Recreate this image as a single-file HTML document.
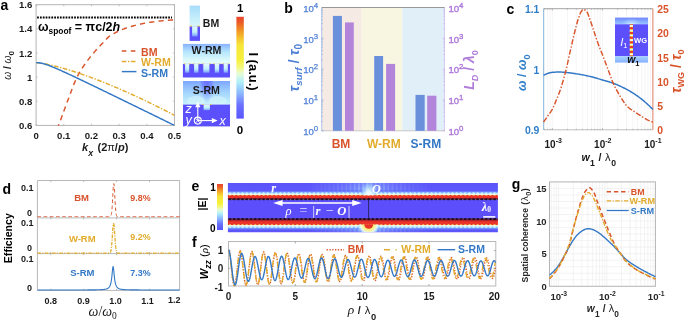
<!DOCTYPE html>
<html lang="en"><head><meta charset="utf-8"><title>Figure</title>
<style>html,body{margin:0;padding:0;background:#fff}body{width:685px;height:321px;overflow:hidden}</style></head>
<body>
<svg width="685" height="321" viewBox="0 0 685 321" style="display:block">
<defs>
<linearGradient id="cb" x1="0" y1="1" x2="0" y2="0">
<stop offset="0" stop-color="#5a55ff"/><stop offset="0.13" stop-color="#6a70ff"/><stop offset="0.25" stop-color="#8cb8ff"/>
<stop offset="0.36" stop-color="#b0f0fa"/><stop offset="0.44" stop-color="#e6fbd8"/><stop offset="0.50" stop-color="#f4f880"/>
<stop offset="0.58" stop-color="#f6f03c"/><stop offset="0.72" stop-color="#f7e63a"/><stop offset="0.80" stop-color="#f6be2c"/><stop offset="0.88" stop-color="#f08a22"/><stop offset="0.94" stop-color="#ec5e28"/><stop offset="1" stop-color="#e8432a"/>
</linearGradient>
<linearGradient id="gBMtop" x1="0" y1="0" x2="0" y2="1"><stop offset="0" stop-color="#a8dcfb"/><stop offset="0.6" stop-color="#c4eefb"/><stop offset="1" stop-color="#d8f6fa"/></linearGradient>
<linearGradient id="gSlot" x1="0" y1="0" x2="0" y2="1"><stop offset="0" stop-color="#e2fbfc"/><stop offset="0.55" stop-color="#c2eefd"/><stop offset="0.85" stop-color="#8cb4ff"/><stop offset="1" stop-color="#6468ff"/></linearGradient>
<linearGradient id="gWtop" x1="0" y1="0" x2="0" y2="1"><stop offset="0" stop-color="#88b2ff"/><stop offset="0.4" stop-color="#b6e6fd"/><stop offset="0.8" stop-color="#dcf9fb"/><stop offset="1" stop-color="#e6fcfb"/></linearGradient>
<linearGradient id="gStop" x1="0" y1="0" x2="0" y2="1"><stop offset="0" stop-color="#7da6ff"/><stop offset="0.5" stop-color="#a4d6fd"/><stop offset="1" stop-color="#c8f2fb"/></linearGradient>
<radialGradient id="gSpl" cx="0.5" cy="0.5" r="0.5"><stop offset="0" stop-color="#6468ff" stop-opacity="1"/><stop offset="0.55" stop-color="#7488ff" stop-opacity="0.85"/><stop offset="1" stop-color="#9cc4ff" stop-opacity="0"/></radialGradient>
</defs>
<text x="0.5" y="9.8" font-family="'Liberation Sans', sans-serif" font-size="14" font-weight="bold" fill="#000">a</text>
<rect x="36.1" y="4.7" width="138.4" height="120.7" fill="#fff" stroke="#b5b5b5" stroke-width="1"/>
<path d="M36.10,125.4v-1.6 M36.10,4.7v1.6 M36.1,4.70h1.6 M174.5,4.70h-1.6 M63.78,125.4v-1.6 M63.78,4.7v1.6 M36.1,28.84h1.6 M174.5,28.84h-1.6 M91.46,125.4v-1.6 M91.46,4.7v1.6 M36.1,52.98h1.6 M174.5,52.98h-1.6 M119.14,125.4v-1.6 M119.14,4.7v1.6 M36.1,77.12h1.6 M174.5,77.12h-1.6 M146.82,125.4v-1.6 M146.82,4.7v1.6 M36.1,101.26h1.6 M174.5,101.26h-1.6 M174.50,125.4v-1.6 M174.50,4.7v1.6 M36.1,125.40h1.6 M174.5,125.40h-1.6" stroke="#b5b5b5" stroke-width="0.8" fill="none"/>
<text x="32.3" y="8.30" text-anchor="end" font-family="'Liberation Sans', sans-serif" font-size="9.6" font-weight="bold" fill="#1a1a1a">1.6</text>
<text x="32.3" y="32.44" text-anchor="end" font-family="'Liberation Sans', sans-serif" font-size="9.6" font-weight="bold" fill="#1a1a1a">1.4</text>
<text x="32.3" y="56.58" text-anchor="end" font-family="'Liberation Sans', sans-serif" font-size="9.6" font-weight="bold" fill="#1a1a1a">1.2</text>
<text x="32.3" y="80.72" text-anchor="end" font-family="'Liberation Sans', sans-serif" font-size="9.6" font-weight="bold" fill="#1a1a1a">1</text>
<text x="32.3" y="104.86" text-anchor="end" font-family="'Liberation Sans', sans-serif" font-size="9.6" font-weight="bold" fill="#1a1a1a">0.8</text>
<text x="32.3" y="129.00" text-anchor="end" font-family="'Liberation Sans', sans-serif" font-size="9.6" font-weight="bold" fill="#1a1a1a">0.6</text>
<text x="36.10" y="138.6" text-anchor="middle" font-family="'Liberation Sans', sans-serif" font-size="9.6" font-weight="bold" fill="#1a1a1a">0</text>
<text x="63.78" y="138.6" text-anchor="middle" font-family="'Liberation Sans', sans-serif" font-size="9.6" font-weight="bold" fill="#1a1a1a">0.1</text>
<text x="91.46" y="138.6" text-anchor="middle" font-family="'Liberation Sans', sans-serif" font-size="9.6" font-weight="bold" fill="#1a1a1a">0.2</text>
<text x="119.14" y="138.6" text-anchor="middle" font-family="'Liberation Sans', sans-serif" font-size="9.6" font-weight="bold" fill="#1a1a1a">0.3</text>
<text x="146.82" y="138.6" text-anchor="middle" font-family="'Liberation Sans', sans-serif" font-size="9.6" font-weight="bold" fill="#1a1a1a">0.4</text>
<text x="174.50" y="138.6" text-anchor="middle" font-family="'Liberation Sans', sans-serif" font-size="9.6" font-weight="bold" fill="#1a1a1a">0.5</text>
<path d="M37.1,17.5H172.0" stroke="#000" stroke-width="2.1" stroke-dasharray="1.75 1.1" fill="none"/>
<clipPath id="ca"><rect x="36.1" y="4.7" width="138.4" height="121.0"/></clipPath>
<g clip-path="url(#ca)" fill="none" stroke-width="1.45">
<path d="M57.14,129.02 L57.92,126.99 L58.71,124.95 L59.50,122.87 L60.29,120.76 L61.08,118.63 L61.86,116.49 L62.65,114.34 L63.44,112.19 L64.23,110.05 L65.01,107.91 L65.80,105.79 L66.59,103.69 L67.38,101.61 L68.16,99.55 L68.95,97.45 L69.74,95.32 L70.53,93.18 L71.31,91.05 L72.10,88.93 L72.89,86.85 L73.68,84.82 L74.47,82.86 L75.25,80.97 L76.04,79.18 L76.83,77.50 L77.62,75.95 L78.40,74.48 L79.19,73.07 L79.98,71.72 L80.77,70.42 L81.55,69.16 L82.34,67.95 L83.13,66.77 L83.92,65.62 L84.71,64.50 L85.49,63.39 L86.28,62.30 L87.07,61.23 L87.86,60.15 L88.64,59.10 L89.43,58.07 L90.22,57.06 L91.01,56.07 L91.79,55.11 L92.58,54.16 L93.37,53.22 L94.16,52.30 L94.95,51.39 L95.73,50.49 L96.52,49.60 L97.31,48.72 L98.10,47.87 L98.88,47.03 L99.67,46.19 L100.46,45.37 L101.25,44.56 L102.03,43.75 L102.82,42.94 L103.61,42.10 L104.40,41.23 L105.18,40.37 L105.97,39.51 L106.76,38.68 L107.55,37.89 L108.34,37.16 L109.12,36.50 L109.91,35.93 L110.70,35.42 L111.49,34.92 L112.27,34.44 L113.06,33.98 L113.85,33.53 L114.64,33.09 L115.42,32.67 L116.21,32.26 L117.00,31.87 L117.79,31.49 L118.58,31.12 L119.36,30.76 L120.15,30.41 L120.94,30.08 L121.73,29.75 L122.51,29.44 L123.30,29.13 L124.09,28.83 L124.88,28.54 L125.66,28.27 L126.45,27.99 L127.24,27.73 L128.03,27.47 L128.81,27.22 L129.60,26.98 L130.39,26.74 L131.18,26.50 L131.97,26.27 L132.75,26.04 L133.54,25.82 L134.33,25.60 L135.12,25.39 L135.90,25.18 L136.69,24.97 L137.48,24.77 L138.27,24.57 L139.05,24.38 L139.84,24.20 L140.63,24.02 L141.42,23.84 L142.21,23.67 L142.99,23.50 L143.78,23.34 L144.57,23.19 L145.36,23.04 L146.14,22.90 L146.93,22.77 L147.72,22.64 L148.51,22.51 L149.29,22.40 L150.08,22.28 L150.87,22.18 L151.66,22.07 L152.45,21.96 L153.23,21.85 L154.02,21.75 L154.81,21.64 L155.60,21.54 L156.38,21.44 L157.17,21.34 L157.96,21.24 L158.75,21.15 L159.53,21.05 L160.32,20.96 L161.11,20.88 L161.90,20.79 L162.68,20.71 L163.47,20.63 L164.26,20.55 L165.05,20.48 L165.84,20.41 L166.62,20.34 L167.41,20.28 L168.20,20.22 L168.99,20.17 L169.77,20.12 L170.56,20.07 L171.35,20.03 L172.14,19.99 L172.92,19.96 L173.71,19.93 L174.50,19.91" stroke="#d9532b" stroke-dasharray="5.2 4.2"/>
<path d="M36.10,62.64 L37.50,62.73 L38.90,62.89 L40.29,63.07 L41.69,63.28 L43.09,63.52 L44.49,63.77 L45.89,64.03 L47.28,64.31 L48.68,64.61 L50.08,64.91 L51.48,65.23 L52.88,65.56 L54.27,65.90 L55.67,66.25 L57.07,66.60 L58.47,66.97 L59.87,67.34 L61.26,67.73 L62.66,68.12 L64.06,68.52 L65.46,68.93 L66.86,69.34 L68.25,69.76 L69.65,70.19 L71.05,70.62 L72.45,71.06 L73.85,71.51 L75.24,71.96 L76.64,72.42 L78.04,72.89 L79.44,73.36 L80.84,73.84 L82.23,74.32 L83.63,74.81 L85.03,75.30 L86.43,75.80 L87.83,76.30 L89.22,76.81 L90.62,77.32 L92.02,77.84 L93.42,78.37 L94.82,78.89 L96.21,79.43 L97.61,79.96 L99.01,80.51 L100.41,81.05 L101.81,81.60 L103.20,82.16 L104.60,82.72 L106.00,83.28 L107.40,83.85 L108.79,84.42 L110.19,85.00 L111.59,85.58 L112.99,86.16 L114.39,86.75 L115.78,87.34 L117.18,87.93 L118.58,88.53 L119.98,89.14 L121.38,89.74 L122.77,90.35 L124.17,90.97 L125.57,91.59 L126.97,92.21 L128.37,92.83 L129.76,93.46 L131.16,94.09 L132.56,94.73 L133.96,95.37 L135.36,96.01 L136.75,96.66 L138.15,97.31 L139.55,97.96 L140.95,98.61 L142.35,99.27 L143.74,99.93 L145.14,100.60 L146.54,101.27 L147.94,101.94 L149.34,102.61 L150.73,103.29 L152.13,103.97 L153.53,104.66 L154.93,105.34 L156.33,106.03 L157.72,106.73 L159.12,107.42 L160.52,108.12 L161.92,108.82 L163.32,109.53 L164.71,110.23 L166.11,110.94 L167.51,111.66 L168.91,112.37 L170.31,113.09 L171.70,113.81 L173.10,114.54 L174.50,115.26" stroke="#e2ab2c" stroke-dasharray="4.6 1.6 1.3 1.6"/>
<path d="M36.10,62.64 L37.50,62.68 L38.90,62.81 L40.29,63.01 L41.69,63.29 L43.09,63.63 L44.49,64.02 L45.89,64.46 L47.28,64.93 L48.68,65.43 L50.08,65.96 L51.48,66.51 L52.88,67.07 L54.27,67.65 L55.67,68.24 L57.07,68.85 L58.47,69.46 L59.87,70.08 L61.26,70.70 L62.66,71.33 L64.06,71.97 L65.46,72.61 L66.86,73.25 L68.25,73.90 L69.65,74.55 L71.05,75.21 L72.45,75.86 L73.85,76.52 L75.24,77.18 L76.64,77.84 L78.04,78.50 L79.44,79.17 L80.84,79.84 L82.23,80.50 L83.63,81.17 L85.03,81.84 L86.43,82.51 L87.83,83.18 L89.22,83.85 L90.62,84.53 L92.02,85.20 L93.42,85.87 L94.82,86.55 L96.21,87.22 L97.61,87.90 L99.01,88.57 L100.41,89.25 L101.81,89.93 L103.20,90.61 L104.60,91.28 L106.00,91.96 L107.40,92.64 L108.79,93.32 L110.19,94.00 L111.59,94.68 L112.99,95.36 L114.39,96.04 L115.78,96.72 L117.18,97.40 L118.58,98.08 L119.98,98.76 L121.38,99.44 L122.77,100.12 L124.17,100.80 L125.57,101.48 L126.97,102.16 L128.37,102.85 L129.76,103.53 L131.16,104.21 L132.56,104.89 L133.96,105.57 L135.36,106.26 L136.75,106.94 L138.15,107.62 L139.55,108.30 L140.95,108.99 L142.35,109.67 L143.74,110.35 L145.14,111.04 L146.54,111.72 L147.94,112.40 L149.34,113.09 L150.73,113.77 L152.13,114.45 L153.53,115.14 L154.93,115.82 L156.33,116.50 L157.72,117.19 L159.12,117.87 L160.52,118.56 L161.92,119.24 L163.32,119.92 L164.71,120.61 L166.11,121.29 L167.51,121.98 L168.91,122.66 L170.31,123.35 L171.70,124.03 L173.10,124.71 L174.50,125.40" stroke="#3378c6"/>
</g>
<text x="38" y="30.8" font-family="'Liberation Sans', sans-serif" font-size="12.5" font-weight="bold" fill="#000">ω<tspan font-size="8.4" dy="2.8">spoof</tspan><tspan dy="-2.8"> = πc/2</tspan><tspan font-style="italic">h</tspan></text>
<g fill="none" stroke-width="1.45"><path d="M121.8,51H136.4" stroke="#d9532b" stroke-dasharray="4.6 4.4"/><path d="M121.8,61.4H136.4" stroke="#e2ab2c" stroke-dasharray="4.6 1.6 1.3 1.6"/><path d="M121.8,71.6H136.4" stroke="#3378c6"/></g>
<g font-family="'Liberation Sans', sans-serif" font-size="10.6" font-weight="bold"><text x="141" y="55.6" fill="#d9532b">BM</text><text x="141" y="66.3" fill="#e2ab2c">W-RM</text><text x="141" y="77" fill="#3378c6">S-RM</text></g>
<text transform="translate(10.6,65.4) rotate(-90)" text-anchor="middle" font-family="'Liberation Sans', sans-serif" font-size="10.2" fill="#1a1a1a"><tspan font-style="italic">ω</tspan><tspan font-weight="bold"> / </tspan><tspan font-style="italic">ω</tspan><tspan font-weight="bold" font-size="8" dy="3.5">0</tspan></text>
<text x="82" y="151.3" font-family="'Liberation Sans', sans-serif" font-size="11" font-weight="bold" fill="#1a1a1a"><tspan font-style="italic">k</tspan><tspan font-style="italic" font-size="8.8" dy="4.6">x</tspan><tspan dy="-4.6" dx="1.4">  (2</tspan><tspan font-weight="normal">π</tspan>/<tspan font-style="italic">p</tspan>)</text>
<rect x="189.6" y="5.6" width="10.4" height="21" fill="url(#gBMtop)"/>
<rect x="189.6" y="26.2" width="10.4" height="14.7" fill="#5b50fb"/>
<rect x="192.1" y="26.2" width="5.4" height="10.6" fill="url(#gSlot)"/>
<rect x="189.8" y="25.6" width="2.2" height="1" fill="#f6c644"/><rect x="197.6" y="25.6" width="2.2" height="1" fill="#f6c644"/>
<text x="202.8" y="27.1" font-family="'Liberation Sans', sans-serif" font-size="10.5" font-weight="bold" fill="#1a1a1a">BM</text>
<rect x="182.9" y="43.9" width="47.1" height="20.3" fill="url(#gWtop)"/>
<rect x="182.9" y="63.9" width="47.1" height="13.6" fill="#5b50fb"/>
<rect x="185.1" y="63.9" width="4.10" height="9.2" fill="url(#gSlot)"/>
<rect x="194.1" y="63.9" width="4.30" height="9.2" fill="url(#gSlot)"/>
<rect x="203.3" y="63.9" width="6.10" height="9.2" fill="url(#gSlot)"/>
<rect x="214.8" y="63.9" width="4.30" height="9.2" fill="url(#gSlot)"/>
<rect x="223.7" y="63.9" width="4.10" height="9.2" fill="url(#gSlot)"/>
<rect x="184.00" y="63.3" width="1.3" height="1.1" fill="#f6c84a" opacity="0.95"/>
<rect x="189.0" y="63.3" width="1.3" height="1.1" fill="#f6c84a" opacity="0.95"/>
<rect x="193.00" y="63.3" width="1.3" height="1.1" fill="#f6c84a" opacity="0.95"/>
<rect x="198.20000000000002" y="63.3" width="1.3" height="1.1" fill="#f6c84a" opacity="0.95"/>
<rect x="202.20" y="63.3" width="1.3" height="1.1" fill="#f6c84a" opacity="0.95"/>
<rect x="209.20000000000002" y="63.3" width="1.3" height="1.1" fill="#f6c84a" opacity="0.95"/>
<rect x="213.70" y="63.3" width="1.3" height="1.1" fill="#f6c84a" opacity="0.95"/>
<rect x="218.9" y="63.3" width="1.3" height="1.1" fill="#f6c84a" opacity="0.95"/>
<rect x="222.60" y="63.3" width="1.3" height="1.1" fill="#f6c84a" opacity="0.95"/>
<rect x="227.60000000000002" y="63.3" width="1.3" height="1.1" fill="#f6c84a" opacity="0.95"/>
<text x="206.5" y="53.6" text-anchor="middle" font-family="'Liberation Sans', sans-serif" font-size="10.6" font-weight="bold" fill="#1a1a1a">W-RM</text>
<rect x="183" y="81" width="47" height="23.8" fill="url(#gStop)"/>
<clipPath id="csr"><rect x="183" y="81" width="47" height="23.8"/></clipPath><g clip-path="url(#csr)"><ellipse cx="206.8" cy="78" rx="9.5" ry="25" fill="url(#gSpl)"/><ellipse cx="196" cy="101" rx="9" ry="5" fill="#d8f8fc" opacity="0.55"/><ellipse cx="218" cy="101" rx="9" ry="5" fill="#d8f8fc" opacity="0.55"/></g>
<rect x="183" y="104.6" width="47" height="21.8" fill="#5b50fb"/>
<rect x="203.6" y="104.4" width="6.3" height="6.1" fill="url(#gSlot)"/>
<rect x="202.2" y="104.1" width="1.5" height="0.9" fill="#f4c64a"/><rect x="209.9" y="104.1" width="1.5" height="0.9" fill="#f4c64a"/>
<text x="206.4" y="93.7" text-anchor="middle" font-family="'Liberation Sans', sans-serif" font-size="10.6" font-weight="bold" fill="#1a1a1a">S-RM</text>
<g stroke="#fff" stroke-width="1.1" fill="none"><path d="M197.8,120.6V106"/><path d="M197.8,120.6H213"/><circle cx="197.8" cy="120.6" r="3.5"/><path d="M195.4,118.2l4.8,4.8M200.2,118.2l-4.8,4.8" stroke-width="0.9"/></g>
<path d="M197.8,101.6l-2.6,5.6h5.2z M217.6,120.6l-5.8,-2.7v5.4z" fill="#fff"/>
<g font-family="'Liberation Sans', sans-serif" font-style="italic" fill="#fff" font-size="12.5"><text x="185.6" y="113">z</text><text x="185.4" y="124">y</text><text x="219.4" y="124.6">x</text></g>
<rect x="236.4" y="16.8" width="7.4" height="101.8" fill="url(#cb)"/>
<text x="240.1" y="12.4" text-anchor="middle" font-family="'Liberation Sans', sans-serif" font-size="11.5" font-weight="bold" fill="#000">1</text>
<text x="239.9" y="134" text-anchor="middle" font-family="'Liberation Sans', sans-serif" font-size="11.5" font-weight="bold" fill="#000">0</text>
<text transform="translate(248.8,52.4) rotate(90)" font-family="'Liberation Sans', sans-serif" font-size="13" font-weight="bold" fill="#000">I (a.u.)</text>
<text x="284.2" y="12.7" font-family="'Liberation Sans', sans-serif" font-size="14" font-weight="bold" fill="#000">b</text>
<rect x="321.7" y="7.5" width="40" height="123.30000000000001" fill="#f6ebe4"/>
<rect x="361.5" y="7.5" width="41" height="123.30000000000001" fill="#f8f5e0"/>
<rect x="402.3" y="7.5" width="42.30000000000001" height="123.30000000000001" fill="#e0eff8"/>
<path d="M321.7,7.5H444.6" stroke="#8c8c8c" stroke-width="0.9"/>
<path d="M321.7,130.8H444.6" stroke="#c4c4c4" stroke-width="0.9"/>
<path d="M321.7,7.5V130.8" stroke="#4d7fd6" stroke-width="0.8" opacity="0.55"/>
<path d="M444.6,7.5V130.8" stroke="#b07cd9" stroke-width="0.8" opacity="0.45"/>
<path d="M321.7,130.80h1.8 M321.7,121.52h1.0 M321.7,116.09h1.0 M321.7,112.24h1.0 M321.7,109.25h1.0 M321.7,106.81h1.0 M321.7,104.75h1.0 M321.7,102.96h1.0 M321.7,101.39h1.0 M321.7,99.98h1.8 M321.7,90.70h1.0 M321.7,85.27h1.0 M321.7,81.42h1.0 M321.7,78.43h1.0 M321.7,75.99h1.0 M321.7,73.92h1.0 M321.7,72.14h1.0 M321.7,70.56h1.0 M321.7,69.15h1.8 M321.7,59.87h1.0 M321.7,54.44h1.0 M321.7,50.59h1.0 M321.7,47.60h1.0 M321.7,45.16h1.0 M321.7,43.10h1.0 M321.7,41.31h1.0 M321.7,39.74h1.0 M321.7,38.33h1.8 M321.7,29.05h1.0 M321.7,23.62h1.0 M321.7,19.77h1.0 M321.7,16.78h1.0 M321.7,14.34h1.0 M321.7,12.27h1.0 M321.7,10.49h1.0 M321.7,8.91h1.0" stroke="#4d7fd6" stroke-width="0.6" opacity="0.8" fill="none"/><path d="M444.6,130.80h-1.8 M444.6,121.52h-1.0 M444.6,116.09h-1.0 M444.6,112.24h-1.0 M444.6,109.25h-1.0 M444.6,106.81h-1.0 M444.6,104.75h-1.0 M444.6,102.96h-1.0 M444.6,101.39h-1.0 M444.6,99.98h-1.8 M444.6,90.70h-1.0 M444.6,85.27h-1.0 M444.6,81.42h-1.0 M444.6,78.43h-1.0 M444.6,75.99h-1.0 M444.6,73.92h-1.0 M444.6,72.14h-1.0 M444.6,70.56h-1.0 M444.6,69.15h-1.8 M444.6,59.87h-1.0 M444.6,54.44h-1.0 M444.6,50.59h-1.0 M444.6,47.60h-1.0 M444.6,45.16h-1.0 M444.6,43.10h-1.0 M444.6,41.31h-1.0 M444.6,39.74h-1.0 M444.6,38.33h-1.8 M444.6,29.05h-1.0 M444.6,23.62h-1.0 M444.6,19.77h-1.0 M444.6,16.78h-1.0 M444.6,14.34h-1.0 M444.6,12.27h-1.0 M444.6,10.49h-1.0 M444.6,8.91h-1.0" stroke="#b07cd9" stroke-width="0.6" opacity="0.8" fill="none"/>
<rect x="332.9" y="15.9" width="9.00" height="114.90" fill="#6a90dc"/>
<rect x="345" y="22.4" width="8.80" height="108.40" fill="#b285da"/>
<rect x="374.2" y="56" width="8.90" height="74.80" fill="#6a90dc"/>
<rect x="386.1" y="63.9" width="9.00" height="66.90" fill="#b285da"/>
<rect x="415.5" y="94.9" width="9.20" height="35.90" fill="#6a90dc"/>
<rect x="427.2" y="95.7" width="9.20" height="35.10" fill="#b285da"/>
<text x="318.2" y="11.80" text-anchor="end" font-family="'Liberation Sans', sans-serif" font-size="9.6" fill="#4d7fd6" stroke="#4d7fd6" stroke-width="0.25">10<tspan font-size="7.8" dy="-4">4</tspan></text>
<text x="448.4" y="11.80" font-family="'Liberation Sans', sans-serif" font-size="9.6" fill="#b07cd9" stroke="#b07cd9" stroke-width="0.4">10<tspan font-size="7.8" dy="-4">4</tspan></text>
<text x="318.2" y="42.62" text-anchor="end" font-family="'Liberation Sans', sans-serif" font-size="9.6" fill="#4d7fd6" stroke="#4d7fd6" stroke-width="0.25">10<tspan font-size="7.8" dy="-4">3</tspan></text>
<text x="448.4" y="42.62" font-family="'Liberation Sans', sans-serif" font-size="9.6" fill="#b07cd9" stroke="#b07cd9" stroke-width="0.4">10<tspan font-size="7.8" dy="-4">3</tspan></text>
<text x="318.2" y="73.45" text-anchor="end" font-family="'Liberation Sans', sans-serif" font-size="9.6" fill="#4d7fd6" stroke="#4d7fd6" stroke-width="0.25">10<tspan font-size="7.8" dy="-4">2</tspan></text>
<text x="448.4" y="73.45" font-family="'Liberation Sans', sans-serif" font-size="9.6" fill="#b07cd9" stroke="#b07cd9" stroke-width="0.4">10<tspan font-size="7.8" dy="-4">2</tspan></text>
<text x="318.2" y="104.28" text-anchor="end" font-family="'Liberation Sans', sans-serif" font-size="9.6" fill="#4d7fd6" stroke="#4d7fd6" stroke-width="0.25">10<tspan font-size="7.8" dy="-4">1</tspan></text>
<text x="448.4" y="104.28" font-family="'Liberation Sans', sans-serif" font-size="9.6" fill="#b07cd9" stroke="#b07cd9" stroke-width="0.4">10<tspan font-size="7.8" dy="-4">1</tspan></text>
<text x="318.2" y="135.10" text-anchor="end" font-family="'Liberation Sans', sans-serif" font-size="9.6" fill="#4d7fd6" stroke="#4d7fd6" stroke-width="0.25">10<tspan font-size="7.8" dy="-4">0</tspan></text>
<text x="448.4" y="135.10" font-family="'Liberation Sans', sans-serif" font-size="9.6" fill="#b07cd9" stroke="#b07cd9" stroke-width="0.4">10<tspan font-size="7.8" dy="-4">0</tspan></text>
<g font-family="'Liberation Sans', sans-serif" font-size="12" font-weight="bold" text-anchor="middle"><text x="341" y="147.8" fill="#d9532b">BM</text><text x="383.8" y="147.8" fill="#e2ab2c">W-RM</text><text x="425.9" y="147.8" fill="#3378c6">S-RM</text></g>
<text transform="translate(298.7,67.8) rotate(-90)" text-anchor="middle" font-family="'Liberation Sans', sans-serif" font-size="14.5" font-weight="bold" font-style="italic" fill="#4d7fd6">τ<tspan font-size="9.6" dy="3.4">surf</tspan><tspan dy="-3.4" font-style="normal"> / </tspan>τ<tspan font-size="10" dy="3.4" font-style="normal">0</tspan></text>
<text transform="translate(474.4,70) rotate(-90)" text-anchor="middle" font-family="'Liberation Sans', sans-serif" font-size="14" font-weight="bold" font-style="italic" fill="#b07cd9">L<tspan font-size="9" dy="3.4">D</tspan><tspan dy="-3.4" font-style="normal"> / </tspan>λ<tspan font-size="9" dy="3.4" font-style="normal">0</tspan></text>
<text x="506.6" y="13.8" font-family="'Liberation Sans', sans-serif" font-size="14" font-weight="bold" fill="#000">c</text>
<rect x="543.6" y="8.7" width="109.29999999999995" height="121.10000000000001" fill="#fff"/>
<path d="M544.52,8.7V129.8 M547.43,8.7V129.8 M550.00,8.7V129.8 M552.30,8.7V129.8 M567.43,8.7V129.8 M576.28,8.7V129.8 M582.55,8.7V129.8 M587.42,8.7V129.8 M591.40,8.7V129.8 M594.77,8.7V129.8 M597.68,8.7V129.8 M600.25,8.7V129.8 M602.55,8.7V129.8 M617.68,8.7V129.8 M626.53,8.7V129.8 M632.80,8.7V129.8 M637.67,8.7V129.8 M641.65,8.7V129.8 M645.02,8.7V129.8 M647.93,8.7V129.8 M650.50,8.7V129.8" stroke="#eeeeee" stroke-width="0.6" fill="none"/>
<path d="M543.6,8.7H652.9" stroke="#9a9a9a" stroke-width="0.9"/><path d="M543.6,129.8H652.9" stroke="#b9b9b9" stroke-width="0.9"/>
<path d="M543.6,8.7V129.8" stroke="#2f7fc9" stroke-width="0.9" opacity="0.6"/><path d="M652.9,8.7V129.8" stroke="#d9532b" stroke-width="0.9" opacity="0.85"/>
<path d="M544.52,129.8v-0.9 M544.52,8.7v0.9 M547.43,129.8v-0.9 M547.43,8.7v0.9 M550.00,129.8v-0.9 M550.00,8.7v0.9 M552.30,129.8v-1.8 M552.30,8.7v1.8 M567.43,129.8v-0.9 M567.43,8.7v0.9 M576.28,129.8v-0.9 M576.28,8.7v0.9 M582.55,129.8v-0.9 M582.55,8.7v0.9 M587.42,129.8v-0.9 M587.42,8.7v0.9 M591.40,129.8v-0.9 M591.40,8.7v0.9 M594.77,129.8v-0.9 M594.77,8.7v0.9 M597.68,129.8v-0.9 M597.68,8.7v0.9 M600.25,129.8v-0.9 M600.25,8.7v0.9 M602.55,129.8v-1.8 M602.55,8.7v1.8 M617.68,129.8v-0.9 M617.68,8.7v0.9 M626.53,129.8v-0.9 M626.53,8.7v0.9 M632.80,129.8v-0.9 M632.80,8.7v0.9 M637.67,129.8v-0.9 M637.67,8.7v0.9 M641.65,129.8v-0.9 M641.65,8.7v0.9 M645.02,129.8v-0.9 M645.02,8.7v0.9 M647.93,129.8v-0.9 M647.93,8.7v0.9 M650.50,129.8v-0.9 M650.50,8.7v0.9" stroke="#8a8a8a" stroke-width="0.6" fill="none"/>
<path d="M543.60,75.30 L544.52,74.85 L545.44,74.42 L546.36,74.02 L547.27,73.64 L548.19,73.30 L549.11,73.00 L550.03,72.76 L550.95,72.56 L551.87,72.42 L552.78,72.34 L553.70,72.26 L554.62,72.19 L555.54,72.12 L556.46,72.07 L557.38,72.03 L558.30,72.01 L559.21,72.00 L560.13,72.01 L561.05,72.05 L561.97,72.10 L562.89,72.17 L563.81,72.25 L564.73,72.34 L565.64,72.44 L566.56,72.53 L567.48,72.62 L568.40,72.71 L569.32,72.81 L570.24,72.92 L571.15,73.04 L572.07,73.16 L572.99,73.29 L573.91,73.42 L574.83,73.56 L575.75,73.71 L576.67,73.85 L577.58,74.00 L578.50,74.16 L579.42,74.31 L580.34,74.47 L581.26,74.63 L582.18,74.80 L583.09,74.98 L584.01,75.16 L584.93,75.34 L585.85,75.53 L586.77,75.73 L587.69,75.93 L588.61,76.14 L589.52,76.36 L590.44,76.57 L591.36,76.79 L592.28,77.02 L593.20,77.25 L594.12,77.50 L595.04,77.75 L595.95,78.02 L596.87,78.29 L597.79,78.57 L598.71,78.85 L599.63,79.13 L600.55,79.42 L601.46,79.70 L602.38,79.98 L603.30,80.25 L604.22,80.51 L605.14,80.77 L606.06,81.03 L606.98,81.28 L607.89,81.54 L608.81,81.80 L609.73,82.07 L610.65,82.35 L611.57,82.64 L612.49,82.95 L613.41,83.27 L614.32,83.62 L615.24,83.97 L616.16,84.34 L617.08,84.73 L618.00,85.13 L618.92,85.54 L619.83,85.97 L620.75,86.40 L621.67,86.85 L622.59,87.30 L623.51,87.76 L624.43,88.23 L625.35,88.70 L626.26,89.18 L627.18,89.67 L628.10,90.17 L629.02,90.68 L629.94,91.21 L630.86,91.75 L631.77,92.30 L632.69,92.87 L633.61,93.45 L634.53,94.05 L635.45,94.65 L636.37,95.28 L637.29,95.92 L638.20,96.58 L639.12,97.26 L640.04,97.96 L640.96,98.67 L641.88,99.41 L642.80,100.16 L643.72,100.92 L644.63,101.70 L645.55,102.49 L646.47,103.29 L647.39,104.10 L648.31,104.95 L649.23,105.82 L650.14,106.71 L651.06,107.63 L651.98,108.56 L652.90,109.50" stroke="#3378c6" stroke-width="1.45" fill="none"/>
<path d="M543.60,122.00 L544.15,121.21 L544.70,120.43 L545.25,119.64 L545.80,118.84 L546.35,118.05 L546.90,117.25 L547.44,116.46 L547.99,115.65 L548.54,114.86 L549.09,114.10 L549.64,113.35 L550.19,112.58 L550.74,111.79 L551.29,110.95 L551.84,110.05 L552.39,109.07 L552.94,107.99 L553.49,106.82 L554.04,105.58 L554.58,104.29 L555.13,102.97 L555.68,101.64 L556.23,100.32 L556.78,99.01 L557.33,97.68 L557.88,96.34 L558.43,94.96 L558.98,93.55 L559.53,92.08 L560.08,90.55 L560.63,88.94 L561.18,87.24 L561.73,85.47 L562.27,83.63 L562.82,81.75 L563.37,79.85 L563.92,77.90 L564.47,75.90 L565.02,73.84 L565.57,71.71 L566.12,69.51 L566.67,67.21 L567.22,64.82 L567.77,62.37 L568.32,59.89 L568.87,57.38 L569.41,54.89 L569.96,52.42 L570.51,50.01 L571.06,47.59 L571.61,45.17 L572.16,42.75 L572.71,40.36 L573.26,38.00 L573.81,35.70 L574.36,33.47 L574.91,31.28 L575.46,29.07 L576.01,26.90 L576.55,24.78 L577.10,22.75 L577.65,20.83 L578.20,19.08 L578.75,17.48 L579.30,15.91 L579.85,14.40 L580.40,13.05 L580.95,11.92 L581.50,11.10 L582.05,10.47 L582.60,9.93 L583.15,9.57 L583.69,9.51 L584.24,9.65 L584.79,9.94 L585.34,10.33 L585.89,10.81 L586.44,11.34 L586.99,12.00 L587.54,13.00 L588.09,14.28 L588.64,15.76 L589.19,17.33 L589.74,18.92 L590.29,20.43 L590.84,21.96 L591.38,23.57 L591.93,25.22 L592.48,26.91 L593.03,28.59 L593.58,30.24 L594.13,31.89 L594.68,33.56 L595.23,35.23 L595.78,36.90 L596.33,38.54 L596.88,40.16 L597.43,41.74 L597.98,43.26 L598.52,44.73 L599.07,46.16 L599.62,47.57 L600.17,48.96 L600.72,50.33 L601.27,51.71 L601.82,53.09 L602.37,54.49 L602.92,55.91 L603.47,57.34 L604.02,58.79 L604.57,60.23 L605.12,61.68 L605.66,63.14 L606.21,64.59 L606.76,66.05 L607.31,67.51 L607.86,68.96 L608.41,70.45 L608.96,71.97 L609.51,73.51 L610.06,75.06 L610.61,76.60 L611.16,78.10 L611.71,79.57 L612.26,80.97 L612.81,82.30 L613.35,83.54 L613.90,84.73 L614.45,85.88 L615.00,87.00 L615.55,88.09 L616.10,89.15 L616.65,90.18 L617.20,91.19 L617.75,92.17 L618.30,93.13 L618.85,94.06 L619.40,94.98 L619.95,95.89 L620.49,96.78 L621.04,97.67 L621.59,98.55 L622.14,99.43 L622.69,100.30 L623.24,101.15 L623.79,101.98 L624.34,102.77 L624.89,103.54 L625.44,104.27 L625.99,104.96 L626.54,105.60 L627.09,106.19 L627.63,106.72 L628.18,107.22 L628.73,107.70 L629.28,108.14 L629.83,108.57 L630.38,108.97 L630.93,109.37 L631.48,109.74 L632.03,110.11 L632.58,110.48 L633.13,110.84 L633.68,111.21 L634.23,111.58 L634.77,111.96 L635.32,112.32 L635.87,112.68 L636.42,113.04 L636.97,113.39 L637.52,113.74 L638.07,114.08 L638.62,114.42 L639.17,114.77 L639.72,115.11 L640.27,115.45 L640.82,115.80 L641.37,116.16 L641.92,116.51 L642.46,116.88 L643.01,117.24 L643.56,117.59 L644.11,117.95 L644.66,118.29 L645.21,118.62 L645.76,118.94 L646.31,119.25 L646.86,119.53 L647.41,119.81 L647.96,120.09 L648.51,120.35 L649.06,120.61 L649.60,120.86 L650.15,121.11 L650.70,121.35 L651.25,121.57 L651.80,121.79 L652.35,122.00 L652.90,122.20" stroke="#d9532b" stroke-width="1.45" stroke-dasharray="5.4 1.8 1.4 1.8" fill="none"/>
<text x="539.4" y="13.00" text-anchor="end" font-family="'Liberation Sans', sans-serif" font-size="10.4" font-weight="bold" fill="#2f7fc9">1.1</text>
<text x="539.4" y="73.55" text-anchor="end" font-family="'Liberation Sans', sans-serif" font-size="10.4" font-weight="bold" fill="#2f7fc9">1</text>
<text x="539.4" y="134.10" text-anchor="end" font-family="'Liberation Sans', sans-serif" font-size="10.4" font-weight="bold" fill="#2f7fc9">0.9</text>
<text x="657.2" y="13.20" font-family="'Liberation Sans', sans-serif" font-size="10.4" font-weight="bold" fill="#d9532b">25</text>
<text x="657.2" y="37.42" font-family="'Liberation Sans', sans-serif" font-size="10.4" font-weight="bold" fill="#d9532b">20</text>
<text x="657.2" y="61.64" font-family="'Liberation Sans', sans-serif" font-size="10.4" font-weight="bold" fill="#d9532b">15</text>
<text x="657.2" y="85.86" font-family="'Liberation Sans', sans-serif" font-size="10.4" font-weight="bold" fill="#d9532b">10</text>
<text x="657.2" y="110.08" font-family="'Liberation Sans', sans-serif" font-size="10.4" font-weight="bold" fill="#d9532b">5</text>
<text x="657.2" y="134.30" font-family="'Liberation Sans', sans-serif" font-size="10.4" font-weight="bold" fill="#d9532b">0</text>
<text x="553.2" y="147.7" text-anchor="middle" font-family="'Liberation Sans', sans-serif" font-size="10" font-weight="bold" fill="#1a1a1a">10<tspan font-size="7" dy="-4.3">-3</tspan></text>
<text x="602.8" y="147.7" text-anchor="middle" font-family="'Liberation Sans', sans-serif" font-size="10" font-weight="bold" fill="#1a1a1a">10<tspan font-size="7" dy="-4.3">-2</tspan></text>
<text x="652.9" y="147.7" text-anchor="middle" font-family="'Liberation Sans', sans-serif" font-size="10" font-weight="bold" fill="#1a1a1a">10<tspan font-size="7" dy="-4.3">-1</tspan></text>
<text x="581.4" y="160.6" font-family="'Liberation Sans', sans-serif" font-size="10.6" font-weight="bold" fill="#1a1a1a"><tspan font-style="italic">w</tspan><tspan font-size="8.7" dy="5.6" dx="0.4">1</tspan><tspan dy="-5.6" dx="0.6"> / </tspan><tspan font-weight="normal" font-size="11.2" dx="0.7">λ</tspan><tspan font-size="8.7" dy="5.6" dx="0.6">0</tspan></text>
<text transform="translate(526.4,72.8) rotate(-90)" text-anchor="middle" font-family="'Liberation Sans', sans-serif" font-size="12.6" font-weight="bold" fill="#2f7fc9"><tspan font-style="italic">ω</tspan> / <tspan font-style="italic">ω</tspan><tspan font-size="9" dy="3.2">0</tspan></text>
<text transform="translate(680.8,71.4) rotate(-90)" text-anchor="middle" font-family="'Liberation Sans', sans-serif" font-size="14" font-weight="bold" fill="#d9532b"><tspan font-style="italic">τ</tspan><tspan font-size="9" dy="3.2">WG</tspan><tspan dy="-3.2"> / </tspan><tspan font-style="italic">τ</tspan><tspan font-size="9" dy="3.2">0</tspan></text>
<defs><linearGradient id="gct" x1="0" y1="0" x2="0" y2="1"><stop offset="0" stop-color="#6f86ff"/><stop offset="1" stop-color="#9ccaff"/></linearGradient>
<radialGradient id="gcg" cx="0.5" cy="1" r="0.9" gradientTransform="translate(0.5 1) scale(0.35 1) translate(-0.5 -1)"><stop offset="0" stop-color="#d8f8ff" stop-opacity="0.95"/><stop offset="1" stop-color="#a8d8ff" stop-opacity="0"/></radialGradient>
<linearGradient id="gcb" x1="0" y1="0" x2="0" y2="1"><stop offset="0" stop-color="#a6d4ff"/><stop offset="1" stop-color="#86b0ff"/></linearGradient>
<linearGradient id="gwg" x1="0" y1="0" x2="0" y2="4.7" gradientUnits="userSpaceOnUse" spreadMethod="repeat"><stop offset="0" stop-color="#ea3a2a"/><stop offset="0.14" stop-color="#ea3a2a"/><stop offset="0.3" stop-color="#f6e04a"/><stop offset="0.42" stop-color="#f8fdf0"/><stop offset="0.5" stop-color="#c4f0ff"/><stop offset="0.58" stop-color="#f8fdf0"/><stop offset="0.7" stop-color="#f6e04a"/><stop offset="0.86" stop-color="#ea3a2a"/><stop offset="1" stop-color="#ea3a2a"/></linearGradient></defs>
<rect x="615" y="17.6" width="33" height="7" fill="url(#gct)"/><rect x="615" y="17.6" width="33" height="7" fill="url(#gcg)"/>
<rect x="615" y="24.3" width="33" height="32" fill="#5b50fb"/>
<rect x="615" y="56.2" width="33" height="6.4" fill="url(#gcb)"/>
<g transform="translate(0,23.6)"><rect x="629.7" y="0.6" width="3.3" height="32" fill="url(#gwg)"/></g>
<text x="620.6" y="45.6" font-family="'Liberation Sans', sans-serif" font-size="11.5" font-style="italic" fill="#fff">l<tspan font-size="7.5" dy="2.8" font-style="normal">1</tspan></text>
<text x="634.1" y="43.2" font-family="'Liberation Sans', sans-serif" font-size="7.6" font-weight="bold" fill="#fff">WG</text>
<text x="627.2" y="62.6" font-family="'Liberation Sans', sans-serif" font-size="10.5" font-weight="bold" fill="#111"><tspan font-style="italic">w</tspan><tspan font-size="7.5" dy="3">1</tspan></text>
<text x="2.4" y="193.7" font-family="'Liberation Sans', sans-serif" font-size="14" font-weight="bold" fill="#000">d</text>
<rect x="37.4" y="180.5" width="142.2" height="109.89999999999998" fill="#fff"/>
<path d="M37.4,180.5V290.4 M179.6,180.5V290.4 M37.4,180.5H179.6 M37.4,217.9H179.6 M37.4,253.6H179.6 M37.4,290.4H179.6 M50.80,217.9v-1.6M50.80,180.5v1.6 M50.80,253.6v-1.6M50.80,217.9v1.6 M50.80,290.4v-1.6M50.80,253.6v1.6 M83.70,217.9v-1.6M83.70,180.5v1.6 M83.70,253.6v-1.6M83.70,217.9v1.6 M83.70,290.4v-1.6M83.70,253.6v1.6 M116.60,217.9v-1.6M116.60,180.5v1.6 M116.60,253.6v-1.6M116.60,217.9v1.6 M116.60,290.4v-1.6M116.60,253.6v1.6 M149.50,217.9v-1.6M149.50,180.5v1.6 M149.50,253.6v-1.6M149.50,217.9v1.6 M149.50,290.4v-1.6M149.50,253.6v1.6" stroke="#b8b8b8" stroke-width="1" fill="none"/>
<path d="M37.40,216.60 L37.76,216.60 L38.11,216.60 L38.47,216.60 L38.83,216.60 L39.18,216.60 L39.54,216.60 L39.89,216.60 L40.25,216.60 L40.61,216.60 L40.96,216.60 L41.32,216.60 L41.68,216.60 L42.03,216.60 L42.39,216.60 L42.75,216.60 L43.10,216.60 L43.46,216.60 L43.82,216.60 L44.17,216.60 L44.53,216.60 L44.88,216.60 L45.24,216.60 L45.60,216.60 L45.95,216.60 L46.31,216.60 L46.67,216.60 L47.02,216.60 L47.38,216.60 L47.74,216.60 L48.09,216.60 L48.45,216.60 L48.80,216.60 L49.16,216.60 L49.52,216.60 L49.87,216.60 L50.23,216.60 L50.59,216.60 L50.94,216.60 L51.30,216.60 L51.66,216.60 L52.01,216.60 L52.37,216.60 L52.72,216.60 L53.08,216.60 L53.44,216.60 L53.79,216.60 L54.15,216.60 L54.51,216.60 L54.86,216.60 L55.22,216.60 L55.58,216.60 L55.93,216.60 L56.29,216.60 L56.65,216.60 L57.00,216.60 L57.36,216.60 L57.71,216.60 L58.07,216.60 L58.43,216.60 L58.78,216.60 L59.14,216.60 L59.50,216.60 L59.85,216.60 L60.21,216.60 L60.57,216.60 L60.92,216.60 L61.28,216.60 L61.63,216.60 L61.99,216.60 L62.35,216.60 L62.70,216.60 L63.06,216.60 L63.42,216.60 L63.77,216.60 L64.13,216.60 L64.49,216.60 L64.84,216.60 L65.20,216.60 L65.55,216.60 L65.91,216.60 L66.27,216.60 L66.62,216.60 L66.98,216.60 L67.34,216.60 L67.69,216.60 L68.05,216.60 L68.41,216.60 L68.76,216.60 L69.12,216.60 L69.48,216.60 L69.83,216.60 L70.19,216.60 L70.54,216.60 L70.90,216.60 L71.26,216.60 L71.61,216.60 L71.97,216.60 L72.33,216.60 L72.68,216.60 L73.04,216.60 L73.40,216.60 L73.75,216.60 L74.11,216.60 L74.46,216.60 L74.82,216.60 L75.18,216.60 L75.53,216.60 L75.89,216.60 L76.25,216.60 L76.60,216.60 L76.96,216.60 L77.32,216.60 L77.67,216.60 L78.03,216.60 L78.38,216.60 L78.74,216.60 L79.10,216.60 L79.45,216.60 L79.81,216.60 L80.17,216.60 L80.52,216.60 L80.88,216.60 L81.24,216.60 L81.59,216.60 L81.95,216.60 L82.31,216.60 L82.66,216.60 L83.02,216.60 L83.37,216.60 L83.73,216.60 L84.09,216.60 L84.44,216.60 L84.80,216.60 L85.16,216.60 L85.51,216.60 L85.87,216.60 L86.23,216.60 L86.58,216.60 L86.94,216.60 L87.29,216.60 L87.65,216.60 L88.01,216.60 L88.36,216.60 L88.72,216.60 L89.08,216.60 L89.43,216.60 L89.79,216.60 L90.15,216.60 L90.50,216.60 L90.86,216.60 L91.22,216.60 L91.57,216.60 L91.93,216.60 L92.28,216.60 L92.64,216.60 L93.00,216.60 L93.35,216.60 L93.71,216.60 L94.07,216.60 L94.42,216.60 L94.78,216.60 L95.14,216.60 L95.49,216.60 L95.85,216.60 L96.20,216.60 L96.56,216.60 L96.92,216.60 L97.27,216.60 L97.63,216.60 L97.99,216.60 L98.34,216.60 L98.70,216.60 L99.06,216.60 L99.41,216.60 L99.77,216.60 L100.12,216.60 L100.48,216.60 L100.84,216.60 L101.19,216.60 L101.55,216.60 L101.91,216.60 L102.26,216.60 L102.62,216.60 L102.98,216.60 L103.33,216.60 L103.69,216.60 L104.05,216.60 L104.40,216.60 L104.76,216.60 L105.11,216.60 L105.47,216.60 L105.83,216.60 L106.18,216.60 L106.54,216.60 L106.90,216.60 L107.25,216.60 L107.61,216.60 L107.80,216.60 L107.90,216.60 L107.97,216.60 L108.00,216.60 L108.10,216.60 L108.20,216.60 L108.30,216.60 L108.32,216.60 L108.40,216.60 L108.50,216.60 L108.60,216.60 L108.68,216.60 L108.70,216.60 L108.80,216.60 L108.90,216.60 L109.00,216.60 L109.03,216.60 L109.10,216.60 L109.20,216.60 L109.30,216.60 L109.39,216.60 L109.40,216.59 L109.50,216.59 L109.60,216.59 L109.70,216.58 L109.75,216.58 L109.80,216.58 L109.90,216.57 L110.00,216.55 L110.10,216.53 L110.10,216.53 L110.20,216.51 L110.30,216.47 L110.40,216.43 L110.46,216.39 L110.50,216.36 L110.60,216.28 L110.70,216.18 L110.80,216.04 L110.82,216.02 L110.90,215.87 L111.00,215.66 L111.10,215.39 L111.17,215.16 L111.20,215.06 L111.30,214.66 L111.40,214.18 L111.50,213.60 L111.53,213.42 L111.60,212.93 L111.70,212.13 L111.80,211.22 L111.89,210.34 L111.90,210.18 L112.00,209.01 L112.10,207.70 L112.20,206.27 L112.24,205.62 L112.30,204.71 L112.40,203.03 L112.50,201.27 L112.60,199.45 L112.60,199.43 L112.70,197.54 L112.80,195.63 L112.90,193.75 L112.95,192.73 L113.00,191.91 L113.10,190.18 L113.20,188.57 L113.30,187.14 L113.31,186.99 L113.40,185.91 L113.50,184.92 L113.60,184.19 L113.67,183.86 L113.70,183.75 L113.80,183.60 L113.90,183.75 L114.00,184.19 L114.02,184.34 L114.10,184.92 L114.20,185.91 L114.30,187.14 L114.38,188.28 L114.40,188.57 L114.50,190.18 L114.60,191.91 L114.70,193.75 L114.74,194.44 L114.80,195.63 L114.90,197.54 L115.00,199.43 L115.09,201.14 L115.10,201.27 L115.20,203.03 L115.30,204.71 L115.40,206.27 L115.45,206.99 L115.50,207.70 L115.60,209.01 L115.70,210.18 L115.80,211.22 L115.81,211.28 L115.90,212.13 L116.00,212.93 L116.10,213.60 L116.16,213.97 L116.20,214.18 L116.30,214.66 L116.40,215.06 L116.50,215.39 L116.52,215.44 L116.60,215.66 L116.70,215.87 L116.80,216.04 L116.88,216.15 L116.90,216.18 L117.00,216.28 L117.10,216.36 L117.20,216.43 L117.23,216.44 L117.30,216.47 L117.40,216.51 L117.50,216.53 L117.59,216.55 L117.60,216.55 L117.70,216.57 L117.80,216.58 L117.90,216.58 L117.94,216.59 L118.00,216.59 L118.10,216.59 L118.20,216.59 L118.30,216.60 L118.30,216.60 L118.40,216.60 L118.50,216.60 L118.60,216.60 L118.66,216.60 L118.70,216.60 L118.80,216.60 L118.90,216.60 L119.00,216.60 L119.01,216.60 L119.10,216.60 L119.20,216.60 L119.30,216.60 L119.37,216.60 L119.40,216.60 L119.50,216.60 L119.60,216.60 L119.70,216.60 L119.73,216.60 L119.80,216.60 L120.08,216.60 L120.44,216.60 L120.80,216.60 L121.15,216.60 L121.51,216.60 L121.86,216.60 L122.22,216.60 L122.58,216.60 L122.93,216.60 L123.29,216.60 L123.65,216.60 L124.00,216.60 L124.36,216.60 L124.72,216.60 L125.07,216.60 L125.43,216.60 L125.78,216.60 L126.14,216.60 L126.50,216.60 L126.85,216.60 L127.21,216.60 L127.57,216.60 L127.92,216.60 L128.28,216.60 L128.64,216.60 L128.99,216.60 L129.35,216.60 L129.71,216.60 L130.06,216.60 L130.42,216.60 L130.77,216.60 L131.13,216.60 L131.49,216.60 L131.84,216.60 L132.20,216.60 L132.56,216.60 L132.91,216.60 L133.27,216.60 L133.63,216.60 L133.98,216.60 L134.34,216.60 L134.69,216.60 L135.05,216.60 L135.41,216.60 L135.76,216.60 L136.12,216.60 L136.48,216.60 L136.83,216.60 L137.19,216.60 L137.55,216.60 L137.90,216.60 L138.26,216.60 L138.62,216.60 L138.97,216.60 L139.33,216.60 L139.68,216.60 L140.04,216.60 L140.40,216.60 L140.75,216.60 L141.11,216.60 L141.47,216.60 L141.82,216.60 L142.18,216.60 L142.54,216.60 L142.89,216.60 L143.25,216.60 L143.60,216.60 L143.96,216.60 L144.32,216.60 L144.67,216.60 L145.03,216.60 L145.39,216.60 L145.74,216.60 L146.10,216.60 L146.46,216.60 L146.81,216.60 L147.17,216.60 L147.52,216.60 L147.88,216.60 L148.24,216.60 L148.59,216.60 L148.95,216.60 L149.31,216.60 L149.66,216.60 L150.02,216.60 L150.38,216.60 L150.73,216.60 L151.09,216.60 L151.45,216.60 L151.80,216.60 L152.16,216.60 L152.51,216.60 L152.87,216.60 L153.23,216.60 L153.58,216.60 L153.94,216.60 L154.30,216.60 L154.65,216.60 L155.01,216.60 L155.37,216.60 L155.72,216.60 L156.08,216.60 L156.43,216.60 L156.79,216.60 L157.15,216.60 L157.50,216.60 L157.86,216.60 L158.22,216.60 L158.57,216.60 L158.93,216.60 L159.29,216.60 L159.64,216.60 L160.00,216.60 L160.35,216.60 L160.71,216.60 L161.07,216.60 L161.42,216.60 L161.78,216.60 L162.14,216.60 L162.49,216.60 L162.85,216.60 L163.21,216.60 L163.56,216.60 L163.92,216.60 L164.28,216.60 L164.63,216.60 L164.99,216.60 L165.34,216.60 L165.70,216.60 L166.06,216.60 L166.41,216.60 L166.77,216.60 L167.13,216.60 L167.48,216.60 L167.84,216.60 L168.20,216.60 L168.55,216.60 L168.91,216.60 L169.26,216.60 L169.62,216.60 L169.98,216.60 L170.33,216.60 L170.69,216.60 L171.05,216.60 L171.40,216.60 L171.76,216.60 L172.12,216.60 L172.47,216.60 L172.83,216.60 L173.18,216.60 L173.54,216.60 L173.90,216.60 L174.25,216.60 L174.61,216.60 L174.97,216.60 L175.32,216.60 L175.68,216.60 L176.04,216.60 L176.39,216.60 L176.75,216.60 L177.11,216.60 L177.46,216.60 L177.82,216.60 L178.17,216.60 L178.53,216.60 L178.89,216.60 L179.24,216.60 L179.60,216.60" stroke="#d9532b" stroke-width="1" stroke-dasharray="3.6 2.6" fill="none"/>
<path d="M37.40,253.20 L37.76,253.20 L38.11,253.20 L38.47,253.20 L38.83,253.20 L39.18,253.20 L39.54,253.20 L39.89,253.20 L40.25,253.20 L40.61,253.20 L40.96,253.20 L41.32,253.20 L41.68,253.20 L42.03,253.20 L42.39,253.20 L42.75,253.20 L43.10,253.20 L43.46,253.20 L43.82,253.20 L44.17,253.20 L44.53,253.20 L44.88,253.20 L45.24,253.20 L45.60,253.20 L45.95,253.20 L46.31,253.20 L46.67,253.20 L47.02,253.20 L47.38,253.20 L47.74,253.20 L48.09,253.20 L48.45,253.20 L48.80,253.20 L49.16,253.20 L49.52,253.20 L49.87,253.20 L50.23,253.20 L50.59,253.20 L50.94,253.20 L51.30,253.20 L51.66,253.20 L52.01,253.20 L52.37,253.20 L52.72,253.20 L53.08,253.20 L53.44,253.20 L53.79,253.20 L54.15,253.20 L54.51,253.20 L54.86,253.20 L55.22,253.20 L55.58,253.20 L55.93,253.20 L56.29,253.20 L56.65,253.20 L57.00,253.20 L57.36,253.20 L57.71,253.20 L58.07,253.20 L58.43,253.20 L58.78,253.20 L59.14,253.20 L59.50,253.20 L59.85,253.20 L60.21,253.20 L60.57,253.20 L60.92,253.20 L61.28,253.20 L61.63,253.20 L61.99,253.20 L62.35,253.20 L62.70,253.20 L63.06,253.20 L63.42,253.20 L63.77,253.20 L64.13,253.20 L64.49,253.20 L64.84,253.20 L65.20,253.20 L65.55,253.20 L65.91,253.20 L66.27,253.20 L66.62,253.20 L66.98,253.20 L67.34,253.20 L67.69,253.20 L68.05,253.20 L68.41,253.20 L68.76,253.20 L69.12,253.20 L69.48,253.20 L69.83,253.20 L70.19,253.20 L70.54,253.20 L70.90,253.20 L71.26,253.20 L71.61,253.20 L71.97,253.20 L72.33,253.20 L72.68,253.20 L73.04,253.20 L73.40,253.20 L73.75,253.20 L74.11,253.20 L74.46,253.20 L74.82,253.20 L75.18,253.20 L75.53,253.20 L75.89,253.20 L76.25,253.20 L76.60,253.20 L76.96,253.20 L77.32,253.20 L77.67,253.20 L78.03,253.20 L78.38,253.20 L78.74,253.20 L79.10,253.20 L79.45,253.20 L79.81,253.20 L80.17,253.20 L80.52,253.20 L80.88,253.20 L81.24,253.20 L81.59,253.20 L81.95,253.20 L82.31,253.20 L82.66,253.20 L83.02,253.20 L83.37,253.20 L83.73,253.20 L84.09,253.20 L84.44,253.20 L84.80,253.20 L85.16,253.20 L85.51,253.20 L85.87,253.20 L86.23,253.20 L86.58,253.20 L86.94,253.20 L87.29,253.20 L87.65,253.20 L88.01,253.20 L88.36,253.20 L88.72,253.20 L89.08,253.20 L89.43,253.20 L89.79,253.20 L90.15,253.20 L90.50,253.20 L90.86,253.20 L91.22,253.20 L91.57,253.20 L91.93,253.20 L92.28,253.20 L92.64,253.20 L93.00,253.20 L93.35,253.20 L93.71,253.20 L94.07,253.20 L94.42,253.20 L94.78,253.20 L95.14,253.20 L95.49,253.20 L95.85,253.20 L96.20,253.20 L96.56,253.20 L96.92,253.20 L97.27,253.20 L97.63,253.20 L97.99,253.20 L98.34,253.20 L98.70,253.20 L99.06,253.20 L99.41,253.20 L99.77,253.20 L100.12,253.20 L100.48,253.20 L100.84,253.20 L101.19,253.20 L101.55,253.20 L101.91,253.20 L102.26,253.20 L102.62,253.20 L102.98,253.20 L103.33,253.20 L103.69,253.20 L104.05,253.20 L104.40,253.20 L104.76,253.20 L105.11,253.20 L105.47,253.20 L105.83,253.20 L106.18,253.20 L106.54,253.20 L106.90,253.20 L107.25,253.20 L107.60,253.20 L107.61,253.20 L107.70,253.20 L107.80,253.20 L107.90,253.20 L107.97,253.20 L108.00,253.20 L108.10,253.20 L108.20,253.20 L108.30,253.20 L108.32,253.20 L108.40,253.20 L108.50,253.20 L108.60,253.19 L108.68,253.19 L108.70,253.19 L108.80,253.19 L108.90,253.19 L109.00,253.18 L109.03,253.18 L109.10,253.17 L109.20,253.16 L109.30,253.15 L109.39,253.14 L109.40,253.14 L109.50,253.11 L109.60,253.09 L109.70,253.05 L109.75,253.03 L109.80,253.00 L109.90,252.94 L110.00,252.87 L110.10,252.78 L110.10,252.78 L110.20,252.67 L110.30,252.53 L110.40,252.35 L110.46,252.23 L110.50,252.15 L110.60,251.90 L110.70,251.60 L110.80,251.25 L110.82,251.19 L110.90,250.85 L111.00,250.37 L111.10,249.82 L111.17,249.37 L111.20,249.19 L111.30,248.48 L111.40,247.69 L111.50,246.80 L111.53,246.52 L111.60,245.82 L111.70,244.75 L111.80,243.59 L111.89,242.53 L111.90,242.35 L112.00,241.03 L112.10,239.65 L112.20,238.21 L112.24,237.60 L112.30,236.74 L112.40,235.25 L112.50,233.75 L112.60,232.31 L112.60,232.28 L112.70,230.86 L112.80,229.50 L112.90,228.23 L112.95,227.58 L113.00,227.08 L113.10,226.06 L113.20,225.20 L113.30,224.51 L113.31,224.44 L113.40,224.01 L113.50,223.70 L113.60,223.60 L113.67,223.65 L113.70,223.70 L113.80,224.01 L113.90,224.51 L114.00,225.20 L114.02,225.39 L114.10,226.06 L114.20,227.08 L114.30,228.23 L114.38,229.24 L114.40,229.50 L114.50,230.86 L114.60,232.28 L114.70,233.75 L114.74,234.30 L114.80,235.25 L114.90,236.74 L115.00,238.21 L115.09,239.55 L115.10,239.65 L115.20,241.03 L115.30,242.35 L115.40,243.59 L115.45,244.18 L115.50,244.75 L115.60,245.82 L115.70,246.80 L115.80,247.69 L115.81,247.74 L115.90,248.48 L116.00,249.19 L116.10,249.82 L116.16,250.17 L116.20,250.37 L116.30,250.85 L116.40,251.25 L116.50,251.60 L116.52,251.66 L116.60,251.90 L116.70,252.15 L116.80,252.35 L116.88,252.49 L116.90,252.53 L117.00,252.67 L117.10,252.78 L117.20,252.87 L117.23,252.90 L117.30,252.94 L117.40,253.00 L117.50,253.05 L117.59,253.08 L117.60,253.09 L117.70,253.11 L117.80,253.14 L117.90,253.15 L117.94,253.16 L118.00,253.16 L118.10,253.17 L118.20,253.18 L118.30,253.19 L118.30,253.19 L118.40,253.19 L118.50,253.19 L118.60,253.19 L118.66,253.20 L118.70,253.20 L118.80,253.20 L118.90,253.20 L119.00,253.20 L119.01,253.20 L119.10,253.20 L119.20,253.20 L119.30,253.20 L119.37,253.20 L119.40,253.20 L119.50,253.20 L119.60,253.20 L119.73,253.20 L120.08,253.20 L120.44,253.20 L120.80,253.20 L121.15,253.20 L121.51,253.20 L121.86,253.20 L122.22,253.20 L122.58,253.20 L122.93,253.20 L123.29,253.20 L123.65,253.20 L124.00,253.20 L124.36,253.20 L124.72,253.20 L125.07,253.20 L125.43,253.20 L125.78,253.20 L126.14,253.20 L126.50,253.20 L126.85,253.20 L127.21,253.20 L127.57,253.20 L127.92,253.20 L128.28,253.20 L128.64,253.20 L128.99,253.20 L129.35,253.20 L129.71,253.20 L130.06,253.20 L130.42,253.20 L130.77,253.20 L131.13,253.20 L131.49,253.20 L131.84,253.20 L132.20,253.20 L132.56,253.20 L132.91,253.20 L133.27,253.20 L133.63,253.20 L133.98,253.20 L134.34,253.20 L134.69,253.20 L135.05,253.20 L135.41,253.20 L135.76,253.20 L136.12,253.20 L136.48,253.20 L136.83,253.20 L137.19,253.20 L137.55,253.20 L137.90,253.20 L138.26,253.20 L138.62,253.20 L138.97,253.20 L139.33,253.20 L139.68,253.20 L140.04,253.20 L140.40,253.20 L140.75,253.20 L141.11,253.20 L141.47,253.20 L141.82,253.20 L142.18,253.20 L142.54,253.20 L142.89,253.20 L143.25,253.20 L143.60,253.20 L143.96,253.20 L144.32,253.20 L144.67,253.20 L145.03,253.20 L145.39,253.20 L145.74,253.20 L146.10,253.20 L146.46,253.20 L146.81,253.20 L147.17,253.20 L147.52,253.20 L147.88,253.20 L148.24,253.20 L148.59,253.20 L148.95,253.20 L149.31,253.20 L149.66,253.20 L150.02,253.20 L150.38,253.20 L150.73,253.20 L151.09,253.20 L151.45,253.20 L151.80,253.20 L152.16,253.20 L152.51,253.20 L152.87,253.20 L153.23,253.20 L153.58,253.20 L153.94,253.20 L154.30,253.20 L154.65,253.20 L155.01,253.20 L155.37,253.20 L155.72,253.20 L156.08,253.20 L156.43,253.20 L156.79,253.20 L157.15,253.20 L157.50,253.20 L157.86,253.20 L158.22,253.20 L158.57,253.20 L158.93,253.20 L159.29,253.20 L159.64,253.20 L160.00,253.20 L160.35,253.20 L160.71,253.20 L161.07,253.20 L161.42,253.20 L161.78,253.20 L162.14,253.20 L162.49,253.20 L162.85,253.20 L163.21,253.20 L163.56,253.20 L163.92,253.20 L164.28,253.20 L164.63,253.20 L164.99,253.20 L165.34,253.20 L165.70,253.20 L166.06,253.20 L166.41,253.20 L166.77,253.20 L167.13,253.20 L167.48,253.20 L167.84,253.20 L168.20,253.20 L168.55,253.20 L168.91,253.20 L169.26,253.20 L169.62,253.20 L169.98,253.20 L170.33,253.20 L170.69,253.20 L171.05,253.20 L171.40,253.20 L171.76,253.20 L172.12,253.20 L172.47,253.20 L172.83,253.20 L173.18,253.20 L173.54,253.20 L173.90,253.20 L174.25,253.20 L174.61,253.20 L174.97,253.20 L175.32,253.20 L175.68,253.20 L176.04,253.20 L176.39,253.20 L176.75,253.20 L177.11,253.20 L177.46,253.20 L177.82,253.20 L178.17,253.20 L178.53,253.20 L178.89,253.20 L179.24,253.20 L179.60,253.20" stroke="#e2ab2c" stroke-width="1.3" stroke-dasharray="3.6 1.3 1.1 1.3" fill="none"/>
<path d="M37.40,289.99 L37.76,289.99 L38.11,289.99 L38.47,289.99 L38.83,289.99 L39.18,289.99 L39.54,289.99 L39.89,289.99 L40.25,289.99 L40.61,289.99 L40.96,289.99 L41.32,289.99 L41.68,289.99 L42.03,289.99 L42.39,289.99 L42.75,289.99 L43.10,289.99 L43.46,289.99 L43.82,289.99 L44.17,289.99 L44.53,289.99 L44.88,289.99 L45.24,289.99 L45.60,289.99 L45.95,289.99 L46.31,289.99 L46.67,289.99 L47.02,289.99 L47.38,289.99 L47.74,289.99 L48.09,289.99 L48.45,289.99 L48.80,289.99 L49.16,289.99 L49.52,289.99 L49.87,289.99 L50.23,289.99 L50.59,289.99 L50.94,289.99 L51.30,289.99 L51.66,289.99 L52.01,289.99 L52.37,289.99 L52.72,289.99 L53.08,289.99 L53.44,289.99 L53.79,289.99 L54.15,289.99 L54.51,289.99 L54.86,289.99 L55.22,289.99 L55.58,289.99 L55.93,289.98 L56.29,289.98 L56.65,289.98 L57.00,289.98 L57.36,289.98 L57.71,289.98 L58.07,289.98 L58.43,289.98 L58.78,289.98 L59.14,289.98 L59.50,289.98 L59.85,289.98 L60.21,289.98 L60.57,289.98 L60.92,289.98 L61.28,289.98 L61.63,289.98 L61.99,289.98 L62.35,289.98 L62.70,289.98 L63.06,289.98 L63.42,289.98 L63.77,289.98 L64.13,289.98 L64.49,289.98 L64.84,289.98 L65.20,289.98 L65.55,289.98 L65.91,289.98 L66.27,289.98 L66.62,289.98 L66.98,289.98 L67.34,289.98 L67.69,289.98 L68.05,289.98 L68.41,289.98 L68.76,289.97 L69.12,289.97 L69.48,289.97 L69.83,289.97 L70.19,289.97 L70.54,289.97 L70.90,289.97 L71.26,289.97 L71.61,289.97 L71.97,289.97 L72.33,289.97 L72.68,289.97 L73.04,289.97 L73.40,289.97 L73.75,289.97 L74.11,289.97 L74.46,289.97 L74.82,289.97 L75.18,289.97 L75.53,289.97 L75.89,289.96 L76.25,289.96 L76.60,289.96 L76.96,289.96 L77.32,289.96 L77.67,289.96 L78.03,289.96 L78.38,289.96 L78.74,289.96 L79.10,289.96 L79.45,289.96 L79.81,289.96 L80.17,289.95 L80.52,289.95 L80.88,289.95 L81.24,289.95 L81.59,289.95 L81.95,289.95 L82.31,289.95 L82.66,289.95 L83.02,289.95 L83.37,289.94 L83.73,289.94 L84.09,289.94 L84.44,289.94 L84.80,289.94 L85.16,289.94 L85.51,289.94 L85.87,289.93 L86.23,289.93 L86.58,289.93 L86.94,289.93 L87.29,289.93 L87.65,289.92 L88.01,289.92 L88.36,289.92 L88.72,289.92 L89.08,289.92 L89.43,289.91 L89.79,289.91 L90.15,289.91 L90.50,289.90 L90.86,289.90 L91.22,289.90 L91.57,289.89 L91.93,289.89 L92.28,289.89 L92.64,289.88 L93.00,289.88 L93.35,289.87 L93.71,289.87 L94.07,289.86 L94.42,289.86 L94.78,289.85 L95.14,289.85 L95.49,289.84 L95.85,289.84 L96.20,289.83 L96.56,289.82 L96.92,289.81 L97.27,289.81 L97.63,289.80 L97.99,289.79 L98.34,289.78 L98.70,289.77 L99.06,289.75 L99.41,289.74 L99.77,289.73 L100.12,289.71 L100.48,289.70 L100.84,289.68 L101.19,289.66 L101.55,289.64 L101.91,289.61 L102.26,289.59 L102.62,289.56 L102.98,289.53 L103.33,289.50 L103.69,289.46 L104.05,289.41 L104.40,289.37 L104.76,289.31 L105.11,289.25 L105.47,289.18 L105.83,289.11 L106.18,289.01 L106.54,288.91 L106.90,288.79 L107.10,288.71 L107.20,288.67 L107.25,288.64 L107.30,288.62 L107.40,288.58 L107.50,288.53 L107.60,288.48 L107.61,288.47 L107.70,288.43 L107.80,288.37 L107.90,288.31 L107.97,288.27 L108.00,288.25 L108.10,288.18 L108.20,288.12 L108.30,288.04 L108.32,288.03 L108.40,287.97 L108.50,287.89 L108.60,287.80 L108.68,287.73 L108.70,287.71 L108.80,287.61 L108.90,287.51 L109.00,287.40 L109.03,287.36 L109.10,287.28 L109.20,287.16 L109.30,287.03 L109.39,286.90 L109.40,286.88 L109.50,286.73 L109.60,286.57 L109.70,286.40 L109.75,286.31 L109.80,286.21 L109.90,286.01 L110.00,285.80 L110.10,285.57 L110.10,285.56 L110.20,285.32 L110.30,285.05 L110.40,284.76 L110.46,284.58 L110.50,284.45 L110.60,284.11 L110.70,283.74 L110.80,283.34 L110.82,283.28 L110.90,282.91 L111.00,282.45 L111.10,281.94 L111.17,281.54 L111.20,281.39 L111.30,280.79 L111.40,280.15 L111.50,279.45 L111.53,279.23 L111.60,278.70 L111.70,277.89 L111.80,277.03 L111.89,276.25 L111.90,276.11 L112.00,275.15 L112.10,274.14 L112.20,273.11 L112.24,272.67 L112.30,272.06 L112.40,271.02 L112.50,270.02 L112.60,269.10 L112.60,269.09 L112.70,268.25 L112.80,267.56 L112.90,267.04 L112.95,266.83 L113.00,266.71 L113.10,266.60 L113.20,266.71 L113.30,267.04 L113.31,267.09 L113.40,267.56 L113.50,268.25 L113.60,269.09 L113.67,269.71 L113.70,270.02 L113.80,271.02 L113.90,272.06 L114.00,273.11 L114.02,273.36 L114.10,274.14 L114.20,275.15 L114.30,276.11 L114.38,276.85 L114.40,277.03 L114.50,277.89 L114.60,278.70 L114.70,279.45 L114.74,279.71 L114.80,280.15 L114.90,280.79 L115.00,281.39 L115.09,281.90 L115.10,281.94 L115.20,282.45 L115.30,282.91 L115.40,283.34 L115.45,283.55 L115.50,283.74 L115.60,284.11 L115.70,284.45 L115.80,284.76 L115.81,284.78 L115.90,285.05 L116.00,285.32 L116.10,285.57 L116.16,285.71 L116.20,285.80 L116.30,286.01 L116.40,286.21 L116.50,286.40 L116.52,286.43 L116.60,286.57 L116.70,286.73 L116.80,286.88 L116.88,286.99 L116.90,287.03 L117.00,287.16 L117.10,287.28 L117.20,287.40 L117.23,287.43 L117.30,287.51 L117.40,287.61 L117.50,287.71 L117.59,287.79 L117.60,287.80 L117.70,287.89 L117.80,287.97 L117.90,288.04 L117.94,288.08 L118.00,288.12 L118.10,288.18 L118.20,288.25 L118.30,288.31 L118.30,288.31 L118.40,288.37 L118.50,288.43 L118.60,288.48 L118.66,288.51 L118.70,288.53 L118.80,288.58 L118.90,288.62 L119.00,288.67 L119.01,288.67 L119.10,288.71 L119.37,288.81 L119.73,288.93 L120.08,289.03 L120.44,289.12 L120.80,289.20 L121.15,289.26 L121.51,289.32 L121.86,289.38 L122.22,289.42 L122.58,289.46 L122.93,289.50 L123.29,289.54 L123.65,289.57 L124.00,289.59 L124.36,289.62 L124.72,289.64 L125.07,289.66 L125.43,289.68 L125.78,289.70 L126.14,289.71 L126.50,289.73 L126.85,289.74 L127.21,289.76 L127.57,289.77 L127.92,289.78 L128.28,289.79 L128.64,289.80 L128.99,289.81 L129.35,289.82 L129.71,289.82 L130.06,289.83 L130.42,289.84 L130.77,289.84 L131.13,289.85 L131.49,289.86 L131.84,289.86 L132.20,289.87 L132.56,289.87 L132.91,289.88 L133.27,289.88 L133.63,289.88 L133.98,289.89 L134.34,289.89 L134.69,289.89 L135.05,289.90 L135.41,289.90 L135.76,289.90 L136.12,289.91 L136.48,289.91 L136.83,289.91 L137.19,289.92 L137.55,289.92 L137.90,289.92 L138.26,289.92 L138.62,289.92 L138.97,289.93 L139.33,289.93 L139.68,289.93 L140.04,289.93 L140.40,289.93 L140.75,289.94 L141.11,289.94 L141.47,289.94 L141.82,289.94 L142.18,289.94 L142.54,289.94 L142.89,289.94 L143.25,289.95 L143.60,289.95 L143.96,289.95 L144.32,289.95 L144.67,289.95 L145.03,289.95 L145.39,289.95 L145.74,289.95 L146.10,289.95 L146.46,289.96 L146.81,289.96 L147.17,289.96 L147.52,289.96 L147.88,289.96 L148.24,289.96 L148.59,289.96 L148.95,289.96 L149.31,289.96 L149.66,289.96 L150.02,289.96 L150.38,289.96 L150.73,289.97 L151.09,289.97 L151.45,289.97 L151.80,289.97 L152.16,289.97 L152.51,289.97 L152.87,289.97 L153.23,289.97 L153.58,289.97 L153.94,289.97 L154.30,289.97 L154.65,289.97 L155.01,289.97 L155.37,289.97 L155.72,289.97 L156.08,289.97 L156.43,289.97 L156.79,289.97 L157.15,289.97 L157.50,289.98 L157.86,289.98 L158.22,289.98 L158.57,289.98 L158.93,289.98 L159.29,289.98 L159.64,289.98 L160.00,289.98 L160.35,289.98 L160.71,289.98 L161.07,289.98 L161.42,289.98 L161.78,289.98 L162.14,289.98 L162.49,289.98 L162.85,289.98 L163.21,289.98 L163.56,289.98 L163.92,289.98 L164.28,289.98 L164.63,289.98 L164.99,289.98 L165.34,289.98 L165.70,289.98 L166.06,289.98 L166.41,289.98 L166.77,289.98 L167.13,289.98 L167.48,289.98 L167.84,289.98 L168.20,289.98 L168.55,289.98 L168.91,289.98 L169.26,289.98 L169.62,289.98 L169.98,289.98 L170.33,289.98 L170.69,289.99 L171.05,289.99 L171.40,289.99 L171.76,289.99 L172.12,289.99 L172.47,289.99 L172.83,289.99 L173.18,289.99 L173.54,289.99 L173.90,289.99 L174.25,289.99 L174.61,289.99 L174.97,289.99 L175.32,289.99 L175.68,289.99 L176.04,289.99 L176.39,289.99 L176.75,289.99 L177.11,289.99 L177.46,289.99 L177.82,289.99 L178.17,289.99 L178.53,289.99 L178.89,289.99 L179.24,289.99 L179.60,289.99" stroke="#3378c6" stroke-width="1.1" fill="none"/>
<text x="33.4" y="191.30" text-anchor="end" font-family="'Liberation Sans', sans-serif" font-size="9" font-weight="bold" fill="#1a1a1a">0.1</text>
<text x="32" y="215.60" text-anchor="end" font-family="'Liberation Sans', sans-serif" font-size="9" font-weight="bold" fill="#1a1a1a">0</text>
<text x="33.4" y="226.20" text-anchor="end" font-family="'Liberation Sans', sans-serif" font-size="9" font-weight="bold" fill="#1a1a1a">0.1</text>
<text x="32" y="251.00" text-anchor="end" font-family="'Liberation Sans', sans-serif" font-size="9" font-weight="bold" fill="#1a1a1a">0</text>
<text x="33.4" y="262.30" text-anchor="end" font-family="'Liberation Sans', sans-serif" font-size="9" font-weight="bold" fill="#1a1a1a">0.1</text>
<text x="32" y="290.90" text-anchor="end" font-family="'Liberation Sans', sans-serif" font-size="9" font-weight="bold" fill="#1a1a1a">0</text>
<text x="50.8" y="303.8" text-anchor="middle" font-family="'Liberation Sans', sans-serif" font-size="9" font-weight="bold" fill="#1a1a1a">0.8</text>
<text x="83.6" y="303.8" text-anchor="middle" font-family="'Liberation Sans', sans-serif" font-size="9" font-weight="bold" fill="#1a1a1a">0.9</text>
<text x="115.6" y="303.8" text-anchor="middle" font-family="'Liberation Sans', sans-serif" font-size="9" font-weight="bold" fill="#1a1a1a">1.0</text>
<text x="147.4" y="303.8" text-anchor="middle" font-family="'Liberation Sans', sans-serif" font-size="9" font-weight="bold" fill="#1a1a1a">1.1</text>
<text x="174.2" y="303" text-anchor="middle" font-family="'Liberation Sans', sans-serif" font-size="9" font-weight="bold" fill="#1a1a1a">1.2</text>
<g font-family="'Liberation Sans', sans-serif" font-size="9.5" font-weight="bold"><text x="74.2" y="200.7" fill="#d9532b">BM</text><text x="130.3" y="200.7" fill="#d9532b" font-size="8.9">9.8%</text><text x="68.9" y="241.6" fill="#e2ab2c">W-RM</text><text x="130.3" y="239.9" fill="#e2ab2c" font-size="8.9">9.2%</text><text x="70.2" y="276" fill="#3378c6">S-RM</text><text x="130.3" y="276" fill="#3378c6" font-size="8.9">7.3%</text></g>
<text transform="translate(12.2,238.2) rotate(-90)" text-anchor="middle" font-family="'Liberation Sans', sans-serif" font-size="10.6" font-weight="bold" fill="#000">Efficiency</text>
<text x="88.6" y="316" font-family="'Liberation Serif', serif" font-size="13.9" font-style="italic" fill="#1a1a1a">ω<tspan font-style="normal">/</tspan>ω<tspan font-size="9.5" dy="2.6" font-style="normal">0</tspan></text>
<text x="191.4" y="190.9" font-family="'Liberation Sans', sans-serif" font-size="14" font-weight="bold" fill="#000">e</text>
<rect x="217" y="184" width="6" height="46" fill="url(#cb)"/>
<text x="213" y="190.9" text-anchor="middle" font-family="'Liberation Sans', sans-serif" font-size="10" font-weight="bold" fill="#000">1</text>
<text x="212.9" y="231.8" text-anchor="middle" font-family="'Liberation Sans', sans-serif" font-size="10" font-weight="bold" fill="#000">0</text>
<text transform="translate(206.2,204) rotate(-90)" text-anchor="middle" font-family="'Liberation Sans', sans-serif" font-size="10.5" font-weight="bold" fill="#000">|E|</text>
<defs><linearGradient id="ge" x1="0" y1="0" x2="0" y2="1"><stop offset="0.0000" stop-color="#5b52fa"/><stop offset="0.1585" stop-color="#5d58fb"/><stop offset="0.1829" stop-color="#7292ff"/><stop offset="0.2033" stop-color="#a0d8fe"/><stop offset="0.2215" stop-color="#dcfafa"/><stop offset="0.2378" stop-color="#f4fbd8"/><stop offset="0.2500" stop-color="#f9dc68"/><stop offset="0.2602" stop-color="#ee6a2c"/><stop offset="0.2683" stop-color="#e8302a"/><stop offset="0.3049" stop-color="#de2a2a"/><stop offset="0.3130" stop-color="#8a1c28"/><stop offset="0.3455" stop-color="#4a1640"/><stop offset="0.3537" stop-color="#5b50fb"/><stop offset="0.7053" stop-color="#5b50fb"/><stop offset="0.7134" stop-color="#4a1640"/><stop offset="0.7581" stop-color="#8a1c28"/><stop offset="0.7683" stop-color="#e22c2a"/><stop offset="0.8211" stop-color="#e8302a"/><stop offset="0.8333" stop-color="#ee6a2c"/><stop offset="0.8455" stop-color="#f9dc68"/><stop offset="0.8598" stop-color="#f4fbd8"/><stop offset="0.8780" stop-color="#dcfafa"/><stop offset="0.9004" stop-color="#a0d8fe"/><stop offset="0.9248" stop-color="#7292ff"/><stop offset="0.9512" stop-color="#5d58fb"/><stop offset="1.0000" stop-color="#5b52fa"/></linearGradient>
<pattern id="sc1" x="227.9" y="0" width="4.2" height="321" patternUnits="userSpaceOnUse"><circle cx="2.1" cy="193.3" r="1.0" fill="#d0f4fc"/><circle cx="2.1" cy="227.0" r="1.1" fill="#d0f4fc"/><circle cx="0" cy="192.9" r="0.9" fill="#6c84ff" opacity="0.28"/><circle cx="4.2" cy="192.9" r="0.9" fill="#6c84ff" opacity="0.28"/><circle cx="0" cy="227.6" r="1" fill="#6c84ff" opacity="0.28"/><circle cx="4.2" cy="227.6" r="1" fill="#6c84ff" opacity="0.28"/><circle cx="0" cy="196.4" r="1.6" fill="#ea342a"/><circle cx="4.2" cy="196.4" r="1.6" fill="#ea342a"/><circle cx="0" cy="223.5" r="1.7" fill="#ea342a"/><circle cx="4.2" cy="223.5" r="1.7" fill="#ea342a"/><rect x="1.2" y="198.5" width="1.9" height="1.7" fill="#140a1c"/><rect x="1.2" y="218.0" width="1.9" height="2" fill="#140a1c"/><rect x="3.4" y="199" width="0.7" height="0.9" fill="#4aa0a0"/><rect x="0" y="217.6" width="1.1" height="0.9" fill="#5b50fb"/><rect x="3.2" y="217.6" width="1" height="0.9" fill="#5b50fb"/></pattern>
<pattern id="rays" x="227.9" y="0" width="4.2" height="321" patternUnits="userSpaceOnUse"><rect x="0" y="0" width="1.8" height="321" fill="#b8e4ff"/><rect x="1.8" y="0" width="2.4" height="321" fill="#86b6ff"/></pattern>
<linearGradient id="gfade" x1="306" y1="0" x2="432" y2="0" gradientUnits="userSpaceOnUse"><stop offset="0" stop-color="#fff" stop-opacity="0"/><stop offset="0.3" stop-color="#fff" stop-opacity="0.4"/><stop offset="0.5" stop-color="#fff" stop-opacity="0.95"/><stop offset="0.7" stop-color="#fff" stop-opacity="0.4"/><stop offset="1" stop-color="#fff" stop-opacity="0"/></linearGradient>
<linearGradient id="gvt" x1="0" y1="183.0" x2="0" y2="193.2" gradientUnits="userSpaceOnUse"><stop offset="0" stop-color="#fff" stop-opacity="0.55"/><stop offset="0.6" stop-color="#fff" stop-opacity="0.8"/><stop offset="1" stop-color="#fff" stop-opacity="0"/></linearGradient>
<linearGradient id="gvb" x1="0" y1="227.2" x2="0" y2="232.2" gradientUnits="userSpaceOnUse"><stop offset="0" stop-color="#fff" stop-opacity="0"/><stop offset="0.5" stop-color="#fff" stop-opacity="0.8"/><stop offset="1" stop-color="#fff" stop-opacity="0.6"/></linearGradient>
<mask id="mt" maskUnits="userSpaceOnUse" x="306" y="183.0" width="126" height="11"><rect x="306" y="183.0" width="126" height="11" fill="url(#gfade)"/></mask>
<mask id="mb" maskUnits="userSpaceOnUse" x="306" y="227" width="126" height="5.2"><rect x="306" y="227" width="126" height="5.2" fill="url(#gfade)"/></mask>
<mask id="mvt" maskUnits="userSpaceOnUse" x="306" y="183.0" width="126" height="11"><rect x="306" y="183.0" width="126" height="11" fill="url(#gvt)"/></mask>
<mask id="mvb" maskUnits="userSpaceOnUse" x="306" y="227" width="126" height="5.2"><rect x="306" y="227" width="126" height="5.2" fill="url(#gvb)"/></mask>
<radialGradient id="glt" cx="368.7" cy="196" r="14.5" gradientUnits="userSpaceOnUse" gradientTransform="translate(368.7 196) scale(0.6 1) translate(-368.7 -196)"><stop offset="0" stop-color="#ffffff" stop-opacity="1"/><stop offset="0.35" stop-color="#e4fbff" stop-opacity="0.95"/><stop offset="0.7" stop-color="#b0dcff" stop-opacity="0.6"/><stop offset="1" stop-color="#8cc0ff" stop-opacity="0"/></radialGradient>
<radialGradient id="glb" cx="368.7" cy="224.6" r="11.5" gradientUnits="userSpaceOnUse"><stop offset="0" stop-color="#f9e650"/><stop offset="0.5" stop-color="#faf08a" stop-opacity="1"/><stop offset="0.7" stop-color="#f0fce8" stop-opacity="0.95"/><stop offset="0.86" stop-color="#b8e6ff" stop-opacity="0.6"/><stop offset="1" stop-color="#9cd0ff" stop-opacity="0"/></radialGradient>
</defs>
<clipPath id="cfield"><rect x="227.9" y="183.0" width="270.0" height="49.19999999999999"/></clipPath><filter id="fb" x="-5%" y="-20%" width="110%" height="140%"><feGaussianBlur stdDeviation="0.42"/></filter>
<g clip-path="url(#cfield)"><g filter="url(#fb)">
<rect x="223.9" y="179.0" width="278.0" height="57.19999999999999" fill="#5b52fa"/>
<rect x="223.9" y="183.0" width="278.0" height="49.19999999999999" fill="url(#ge)"/>
<g mask="url(#mt)"><g mask="url(#mvt)"><rect x="306" y="183.0" width="126" height="11" fill="url(#rays)"/></g></g>
<g mask="url(#mb)"><g mask="url(#mvb)"><rect x="306" y="227" width="126" height="5.2" fill="url(#rays)"/></g></g>
<rect x="223.9" y="183.0" width="278.0" height="49.19999999999999" fill="url(#sc1)"/>
<clipPath id="cet"><rect x="227.9" y="183.0" width="270.0" height="12.199999999999989"/></clipPath><clipPath id="ceb"><rect x="227.9" y="224.6" width="270.0" height="7.599999999999994"/></clipPath>
<g clip-path="url(#cet)"><ellipse cx="368.7" cy="196" rx="9" ry="14.5" fill="url(#glt)"/></g>
<g clip-path="url(#ceb)"><circle cx="368.7" cy="224.6" r="11.5" fill="url(#glb)"/></g>
<path d="M364.2,224.2a4.5,4.5 0 0 0 9,0z" fill="#e8302a"/>
</g></g>
<path d="M368.6,197.8V220.2" stroke="#15152a" stroke-width="0.7"/>
<path d="M280,203H355" stroke="#fff" stroke-width="1.4"/><path d="M273.2,203l9.4,-3.1v6.2z M361.6,203l-9.4,-3.1v6.2z" fill="#fff"/>
<text x="271.2" y="191.6" font-family="'Liberation Serif', serif" font-size="12.5" font-weight="bold" font-style="italic" fill="#fff">r</text>
<text x="372" y="193.2" font-family="'Liberation Serif', serif" font-size="12" font-weight="bold" font-style="italic" fill="#fff">O</text>
<text y="214.5" font-family="'Liberation Serif', serif" font-size="12.6" font-style="italic" fill="#fff"><tspan x="285.6">ρ</tspan><tspan x="299.6" font-style="normal" fill-opacity="0.85" font-size="14">=</tspan><tspan x="312.4" font-style="normal">|</tspan><tspan x="315.6" font-weight="bold">r</tspan><tspan x="326" font-style="normal" fill-opacity="0.85" font-size="14">−</tspan><tspan x="337.2" font-weight="bold">O</tspan><tspan x="347.8" font-style="normal">|</tspan></text>
<text x="481.8" y="210.6" font-family="'Liberation Serif', serif" font-size="12.5" font-weight="bold" font-style="italic" fill="#fff">λ<tspan font-size="7.5" dy="1.6" font-style="normal">0</tspan></text>
<path d="M483.2,216.9H495.3" stroke="#fff" stroke-width="1.5"/>
<text x="192" y="246.9" font-family="'Liberation Sans', sans-serif" font-size="14" font-weight="bold" fill="#000">f</text>
<rect x="228.5" y="241.5" width="267.3" height="44.5" fill="#fff" stroke="#b8b8b8" stroke-width="1"/>
<path d="M295.32,286v-2M295.32,241.5v2 M362.15,286v-2M362.15,241.5v2 M428.98,286v-2M428.98,241.5v2 M228.5,250.60h2M495.8,250.60h-2 M228.5,268.30h2M495.8,268.30h-2" stroke="#9a9a9a" stroke-width="0.8" fill="none"/>
<clipPath id="cf"><rect x="228.5" y="241.5" width="267.3" height="46.0"/></clipPath><g clip-path="url(#cf)" fill="none">
<path d="M228.50,250.07 L228.80,250.32 L229.09,251.02 L229.39,252.16 L229.69,253.70 L229.99,255.61 L230.28,257.84 L230.58,260.32 L230.88,263.01 L231.18,265.82 L231.47,268.68 L231.77,271.54 L232.07,274.30 L232.37,276.91 L232.66,279.29 L232.96,281.40 L233.26,283.16 L233.55,284.55 L233.85,285.52 L234.15,286.06 L234.45,286.15 L234.74,285.79 L235.04,284.98 L235.34,283.76 L235.64,282.14 L235.93,280.18 L236.23,277.93 L236.53,275.43 L236.83,272.76 L237.12,269.99 L237.42,267.17 L237.72,264.39 L238.01,261.72 L238.31,259.21 L238.61,256.94 L238.91,254.96 L239.20,253.33 L239.50,252.07 L239.80,251.23 L240.10,250.82 L240.39,250.85 L240.69,251.32 L240.99,252.22 L241.29,253.53 L241.58,255.21 L241.88,257.21 L242.18,259.49 L242.47,261.99 L242.77,264.64 L243.07,267.38 L243.37,270.14 L243.66,272.85 L243.96,275.43 L244.26,277.83 L244.56,279.99 L244.85,281.84 L245.15,283.35 L245.45,284.48 L245.75,285.20 L246.04,285.48 L246.34,285.34 L246.64,284.76 L246.93,283.77 L247.23,282.38 L247.53,280.65 L247.83,278.61 L248.12,276.31 L248.42,273.81 L248.72,271.18 L249.02,268.48 L249.31,265.78 L249.61,263.15 L249.91,260.65 L250.21,258.36 L250.50,256.32 L250.80,254.58 L251.10,253.20 L251.39,252.20 L251.69,251.60 L251.99,251.44 L252.29,251.69 L252.58,252.37 L252.88,253.45 L253.18,254.90 L253.48,256.69 L253.77,258.77 L254.07,261.08 L254.37,263.57 L254.67,266.18 L254.96,268.84 L255.26,271.47 L255.56,274.02 L255.85,276.43 L256.15,278.62 L256.45,280.55 L256.75,282.16 L257.04,283.42 L257.34,284.30 L257.64,284.77 L257.94,284.83 L258.23,284.46 L258.53,283.69 L258.83,282.53 L259.13,281.02 L259.42,279.18 L259.72,277.07 L260.02,274.75 L260.31,272.27 L260.61,269.69 L260.91,267.08 L261.21,264.51 L261.50,262.03 L261.80,259.72 L262.10,257.63 L262.40,255.82 L262.69,254.32 L262.99,253.18 L263.29,252.43 L263.58,252.07 L263.88,252.13 L264.18,252.59 L264.48,253.46 L264.77,254.69 L265.07,256.27 L265.37,258.14 L265.67,260.28 L265.96,262.60 L266.26,265.07 L266.56,267.62 L266.86,270.18 L267.15,272.69 L267.45,275.08 L267.75,277.29 L268.04,279.28 L268.34,280.98 L268.64,282.36 L268.94,283.38 L269.23,284.02 L269.53,284.26 L269.83,284.10 L270.13,283.54 L270.42,282.59 L270.72,281.29 L271.02,279.66 L271.32,277.74 L271.61,275.59 L271.91,273.26 L272.21,270.81 L272.50,268.29 L272.80,265.79 L273.10,263.35 L273.40,261.04 L273.69,258.92 L273.99,257.04 L274.29,255.45 L274.59,254.18 L274.88,253.27 L275.18,252.75 L275.48,252.62 L275.78,252.88 L276.07,253.54 L276.37,254.57 L276.67,255.94 L276.96,257.62 L277.26,259.57 L277.56,261.73 L277.86,264.06 L278.15,266.49 L278.45,268.97 L278.75,271.42 L279.05,273.79 L279.34,276.01 L279.64,278.04 L279.94,279.82 L280.24,281.30 L280.53,282.45 L280.83,283.24 L281.13,283.66 L281.42,283.68 L281.72,283.32 L282.02,282.57 L282.32,281.47 L282.61,280.04 L282.91,278.31 L283.21,276.33 L283.51,274.16 L283.80,271.84 L284.10,269.43 L284.40,267.00 L284.70,264.60 L284.99,262.31 L285.29,260.17 L285.59,258.23 L285.88,256.56 L286.18,255.19 L286.48,254.14 L286.78,253.46 L287.07,253.16 L287.37,253.24 L287.67,253.69 L287.97,254.52 L288.26,255.69 L288.56,257.18 L288.86,258.95 L289.16,260.95 L289.45,263.14 L289.75,265.45 L290.05,267.83 L290.34,270.22 L290.64,272.55 L290.94,274.77 L291.24,276.83 L291.53,278.67 L291.83,280.24 L292.13,281.50 L292.43,282.44 L292.72,283.01 L293.02,283.21 L293.32,283.03 L293.62,282.48 L293.91,281.58 L294.21,280.34 L294.51,278.79 L294.80,276.99 L295.10,274.97 L295.40,272.78 L295.70,270.48 L295.99,268.14 L296.29,265.80 L296.59,263.52 L296.89,261.37 L297.18,259.40 L297.48,257.66 L297.78,256.19 L298.08,255.03 L298.37,254.21 L298.67,253.74 L298.97,253.64 L299.26,253.91 L299.56,254.55 L299.86,255.53 L300.16,256.83 L300.45,258.43 L300.75,260.26 L301.05,262.30 L301.35,264.49 L301.64,266.77 L301.94,269.08 L302.24,271.37 L302.54,273.58 L302.83,275.65 L303.13,277.53 L303.43,279.18 L303.72,280.55 L304.02,281.61 L304.32,282.33 L304.62,282.69 L304.91,282.69 L305.21,282.33 L305.51,281.61 L305.81,280.55 L306.10,279.19 L306.40,277.56 L306.70,275.69 L307.00,273.64 L307.29,271.46 L307.59,269.20 L307.89,266.93 L308.18,264.69 L308.48,262.54 L308.78,260.55 L309.08,258.75 L309.37,257.20 L309.67,255.93 L309.97,254.98 L310.27,254.36 L310.56,254.10 L310.86,254.19 L311.16,254.65 L311.46,255.44 L311.75,256.56 L312.05,257.98 L312.35,259.65 L312.64,261.54 L312.94,263.60 L313.24,265.78 L313.54,268.01 L313.83,270.25 L314.13,272.43 L314.43,274.51 L314.73,276.43 L315.02,278.14 L315.32,279.59 L315.62,280.76 L315.92,281.62 L316.21,282.13 L316.51,282.30 L316.81,282.11 L317.10,281.57 L317.40,280.70 L317.70,279.51 L318.00,278.05 L318.29,276.34 L318.59,274.43 L318.89,272.36 L319.19,270.20 L319.48,268.00 L319.78,265.80 L320.08,263.67 L320.38,261.66 L320.67,259.82 L320.97,258.20 L321.27,256.84 L321.56,255.77 L321.86,255.01 L322.16,254.60 L322.46,254.53 L322.75,254.81 L323.05,255.43 L323.35,256.37 L323.65,257.61 L323.94,259.12 L324.24,260.87 L324.54,262.79 L324.84,264.86 L325.13,267.00 L325.43,269.18 L325.73,271.33 L326.02,273.40 L326.32,275.34 L326.62,277.10 L326.92,278.64 L327.21,279.91 L327.51,280.88 L327.81,281.54 L328.11,281.86 L328.40,281.83 L328.70,281.47 L329.00,280.77 L329.29,279.76 L329.59,278.46 L329.89,276.90 L330.19,275.13 L330.48,273.20 L330.78,271.13 L331.08,269.01 L331.38,266.86 L331.67,264.76 L331.97,262.74 L332.27,260.88 L332.57,259.20 L332.86,257.75 L333.16,256.57 L333.46,255.70 L333.75,255.14 L334.05,254.91 L334.35,255.02 L334.65,255.47 L334.94,256.24 L335.24,257.32 L335.54,258.67 L335.84,260.26 L336.13,262.06 L336.43,264.01 L336.73,266.06 L337.03,268.17 L337.32,270.28 L337.62,272.33 L337.92,274.29 L338.21,276.08 L338.51,277.68 L338.81,279.04 L339.11,280.12 L339.40,280.91 L339.70,281.37 L340.00,281.51 L340.30,281.31 L340.59,280.78 L340.89,279.93 L341.19,278.80 L341.49,277.40 L341.78,275.77 L342.08,273.96 L342.38,272.00 L342.67,269.96 L342.97,267.87 L343.27,265.80 L343.57,263.80 L343.86,261.91 L344.16,260.18 L344.46,258.67 L344.76,257.40 L345.05,256.40 L345.35,255.71 L345.65,255.34 L345.95,255.29 L346.24,255.58 L346.54,256.18 L346.84,257.10 L347.13,258.29 L347.43,259.73 L347.73,261.39 L348.03,263.22 L348.32,265.18 L348.62,267.21 L348.92,269.27 L349.22,271.30 L349.51,273.25 L349.81,275.08 L350.11,276.73 L350.41,278.16 L350.70,279.35 L351.00,280.25 L351.30,280.85 L351.59,281.13 L351.89,281.09 L352.19,280.72 L352.49,280.04 L352.78,279.07 L353.08,277.82 L353.38,276.34 L353.68,274.65 L353.97,272.80 L354.27,270.85 L354.57,268.83 L354.87,266.80 L355.16,264.81 L355.46,262.92 L355.76,261.16 L356.05,259.58 L356.35,258.23 L356.65,257.13 L356.95,256.32 L357.24,255.81 L357.54,255.61 L357.84,255.74 L358.14,256.19 L358.43,256.94 L358.73,257.97 L359.03,259.27 L359.33,260.79 L359.62,262.51 L359.92,264.36 L360.22,266.31 L360.51,268.31 L360.81,270.31 L361.11,272.25 L361.41,274.09 L361.70,275.79 L362.00,277.29 L362.30,278.56 L362.60,279.57 L362.89,280.30 L363.19,280.72 L363.49,280.82 L363.79,280.61 L364.08,280.09 L364.38,279.27 L364.68,278.18 L364.97,276.83 L365.27,275.28 L365.57,273.54 L365.87,271.68 L366.16,269.74 L366.46,267.76 L366.76,265.80 L367.06,263.90 L367.35,262.12 L367.65,260.49 L367.95,259.07 L368.25,257.87 L368.54,256.95 L368.84,256.31 L369.14,255.98 L369.43,255.96 L369.73,256.25 L370.03,256.84 L370.33,257.73 L370.62,258.88 L370.92,260.26 L371.22,261.85 L371.52,263.60 L371.81,265.47 L372.11,267.40 L372.41,269.36 L372.71,271.28 L373.00,273.13 L373.30,274.85 L373.60,276.41 L373.89,277.76 L374.19,278.87 L374.49,279.71 L374.79,280.26 L375.08,280.51 L375.38,280.45 L375.68,280.08 L375.98,279.41 L376.27,278.47 L376.57,277.27 L376.87,275.84 L377.17,274.22 L377.46,272.46 L377.76,270.59 L378.06,268.67 L378.35,266.74 L378.65,264.86 L378.95,263.06 L379.25,261.39 L379.54,259.91 L379.84,258.63 L380.14,257.61 L380.44,256.85 L380.73,256.39 L381.03,256.22 L381.33,256.36 L381.63,256.81 L381.92,257.54 L382.22,258.55 L382.52,259.80 L382.81,261.26 L383.11,262.90 L383.41,264.67 L383.71,266.54 L384.00,268.44 L384.30,270.34 L384.60,272.19 L384.90,273.93 L385.19,275.54 L385.49,276.95 L385.79,278.15 L386.09,279.10 L386.38,279.77 L386.68,280.15 L386.98,280.23 L387.27,280.01 L387.57,279.49 L387.87,278.70 L388.17,277.64 L388.46,276.34 L388.76,274.84 L389.06,273.18 L389.36,271.40 L389.65,269.54 L389.95,267.66 L390.25,265.79 L390.55,263.98 L390.84,262.29 L391.14,260.75 L391.44,259.41 L391.73,258.29 L392.03,257.42 L392.33,256.83 L392.63,256.53 L392.92,256.53 L393.22,256.83 L393.52,257.42 L393.82,258.28 L394.11,259.39 L394.41,260.73 L394.71,262.25 L395.01,263.93 L395.30,265.72 L395.60,267.57 L395.90,269.43 L396.19,271.27 L396.49,273.03 L396.79,274.67 L397.09,276.14 L397.38,277.41 L397.68,278.46 L397.98,279.24 L398.28,279.75 L398.57,279.97 L398.87,279.89 L399.17,279.52 L399.46,278.86 L399.76,277.94 L400.06,276.78 L400.36,275.41 L400.65,273.85 L400.95,272.16 L401.25,270.37 L401.55,268.53 L401.84,266.69 L402.14,264.89 L402.44,263.18 L402.74,261.60 L403.03,260.19 L403.33,258.98 L403.63,258.02 L403.92,257.31 L404.22,256.89 L404.52,256.75 L404.82,256.90 L405.11,257.35 L405.41,258.07 L405.71,259.04 L406.01,260.25 L406.30,261.66 L406.60,263.24 L406.90,264.95 L407.20,266.73 L407.49,268.56 L407.79,270.38 L408.09,272.14 L408.38,273.80 L408.68,275.32 L408.98,276.67 L409.28,277.80 L409.57,278.69 L409.87,279.31 L410.17,279.66 L410.47,279.72 L410.76,279.49 L411.06,278.98 L411.36,278.19 L411.66,277.16 L411.95,275.91 L412.25,274.46 L412.55,272.87 L412.84,271.15 L413.14,269.37 L413.44,267.56 L413.74,265.77 L414.03,264.05 L414.33,262.44 L414.63,260.97 L414.93,259.70 L415.22,258.64 L415.52,257.83 L415.82,257.28 L416.12,257.01 L416.41,257.03 L416.71,257.33 L417.01,257.91 L417.30,258.76 L417.60,259.84 L417.90,261.13 L418.20,262.61 L418.49,264.22 L418.79,265.94 L419.09,267.72 L419.39,269.51 L419.68,271.27 L419.98,272.95 L420.28,274.51 L420.58,275.91 L420.87,277.12 L421.17,278.10 L421.47,278.84 L421.76,279.31 L422.06,279.50 L422.36,279.40 L422.66,279.03 L422.95,278.39 L423.25,277.49 L423.55,276.36 L423.85,275.02 L424.14,273.52 L424.44,271.89 L424.74,270.17 L425.04,268.40 L425.33,266.63 L425.63,264.91 L425.93,263.27 L426.22,261.77 L426.52,260.42 L426.82,259.28 L427.12,258.37 L427.41,257.71 L427.71,257.32 L428.01,257.21 L428.31,257.37 L428.60,257.82 L428.90,258.52 L429.20,259.48 L429.50,260.65 L429.79,262.02 L430.09,263.55 L430.39,265.19 L430.68,266.91 L430.98,268.67 L431.28,270.41 L431.58,272.10 L431.87,273.69 L432.17,275.15 L432.47,276.42 L432.77,277.50 L433.06,278.33 L433.36,278.92 L433.66,279.23 L433.96,279.27 L434.25,279.03 L434.55,278.52 L434.85,277.76 L435.14,276.75 L435.44,275.53 L435.74,274.13 L436.04,272.58 L436.33,270.93 L436.63,269.21 L436.93,267.47 L437.23,265.75 L437.52,264.10 L437.82,262.56 L438.12,261.16 L438.42,259.95 L438.71,258.94 L439.01,258.18 L439.31,257.67 L439.60,257.43 L439.90,257.46 L440.20,257.77 L440.50,258.35 L440.79,259.17 L441.09,260.23 L441.39,261.49 L441.69,262.92 L441.98,264.48 L442.28,266.14 L442.58,267.86 L442.88,269.58 L443.17,271.27 L443.47,272.88 L443.77,274.38 L444.06,275.72 L444.36,276.87 L444.66,277.80 L444.96,278.49 L445.25,278.93 L445.55,279.09 L445.85,278.98 L446.15,278.61 L446.44,277.97 L446.74,277.09 L447.04,275.98 L447.34,274.69 L447.63,273.23 L447.93,271.65 L448.23,269.99 L448.52,268.28 L448.82,266.58 L449.12,264.92 L449.42,263.35 L449.71,261.91 L450.01,260.62 L450.31,259.54 L450.61,258.67 L450.90,258.05 L451.20,257.69 L451.50,257.60 L451.80,257.78 L452.09,258.23 L452.39,258.92 L452.69,259.86 L452.98,261.01 L453.28,262.34 L453.58,263.82 L453.88,265.41 L454.17,267.08 L454.47,268.77 L454.77,270.45 L455.07,272.08 L455.36,273.60 L455.66,275.00 L455.96,276.22 L456.26,277.24 L456.55,278.03 L456.85,278.58 L457.15,278.87 L457.44,278.89 L457.74,278.64 L458.04,278.13 L458.34,277.37 L458.63,276.39 L458.93,275.20 L459.23,273.83 L459.53,272.33 L459.82,270.73 L460.12,269.07 L460.42,267.39 L460.72,265.73 L461.01,264.14 L461.31,262.66 L461.61,261.32 L461.90,260.16 L462.20,259.20 L462.50,258.48 L462.80,258.00 L463.09,257.79 L463.39,257.84 L463.69,258.16 L463.99,258.73 L464.28,259.54 L464.58,260.58 L464.88,261.81 L465.17,263.20 L465.47,264.72 L465.77,266.33 L466.07,267.99 L466.36,269.65 L466.66,271.28 L466.96,272.83 L467.26,274.27 L467.55,275.55 L467.85,276.65 L468.15,277.54 L468.45,278.20 L468.74,278.60 L469.04,278.74 L469.34,278.62 L469.63,278.24 L469.93,277.60 L470.23,276.74 L470.53,275.66 L470.82,274.39 L471.12,272.97 L471.42,271.43 L471.72,269.82 L472.01,268.17 L472.31,266.52 L472.61,264.92 L472.91,263.41 L473.20,262.02 L473.50,260.79 L473.80,259.75 L474.09,258.93 L474.39,258.35 L474.69,258.02 L474.99,257.95 L475.28,258.14 L475.58,258.58 L475.88,259.28 L476.18,260.20 L476.47,261.32 L476.77,262.62 L477.07,264.06 L477.37,265.61 L477.66,267.23 L477.96,268.87 L478.26,270.49 L478.55,272.06 L478.85,273.53 L479.15,274.87 L479.45,276.05 L479.74,277.02 L480.04,277.78 L480.34,278.29 L480.64,278.55 L480.93,278.55 L481.23,278.29 L481.53,277.78 L481.83,277.03 L482.12,276.07 L482.42,274.90 L482.72,273.57 L483.01,272.11 L483.31,270.55 L483.61,268.93 L483.91,267.30 L484.20,265.70 L484.50,264.16 L484.80,262.73 L485.10,261.45 L485.39,260.33 L485.69,259.42 L485.99,258.73 L486.29,258.29 L486.58,258.10 L486.88,258.17 L487.18,258.49 L487.47,259.06 L487.77,259.86 L488.07,260.88 L488.37,262.09 L488.66,263.45 L488.96,264.93 L489.26,266.49 L489.56,268.10 L489.85,269.72 L490.15,271.30 L490.45,272.80 L490.75,274.18 L491.04,275.42 L491.34,276.47 L491.64,277.32 L491.93,277.94 L492.23,278.32 L492.53,278.44 L492.83,278.30 L493.12,277.91 L493.42,277.28 L493.72,276.43 L494.02,275.36 L494.31,274.12 L494.61,272.74 L494.91,271.24 L495.21,269.67 L495.50,268.06 L495.80,266.47" stroke="#d9532b" stroke-width="1.4" stroke-dasharray="1.2 1.5"/>
<path d="M228.50,250.60 L228.80,250.84 L229.09,251.53 L229.39,252.65 L229.69,254.16 L229.99,256.03 L230.28,258.20 L230.58,260.64 L230.88,263.26 L231.18,266.00 L231.47,268.80 L231.77,271.58 L232.07,274.27 L232.37,276.80 L232.66,279.11 L232.96,281.14 L233.26,282.84 L233.55,284.17 L233.85,285.08 L234.15,285.57 L234.45,285.62 L234.74,285.22 L235.04,284.40 L235.34,283.16 L235.64,281.55 L235.93,279.60 L236.23,277.37 L236.53,274.92 L236.83,272.29 L237.12,269.58 L237.42,266.83 L237.72,264.13 L238.01,261.54 L238.31,259.13 L238.61,256.95 L238.91,255.07 L239.20,253.53 L239.50,252.37 L239.80,251.62 L240.10,251.30 L240.39,251.41 L240.69,251.95 L240.99,252.90 L241.29,254.25 L241.58,255.95 L241.88,257.97 L242.18,260.24 L242.47,262.71 L242.77,265.33 L243.07,268.01 L243.37,270.69 L243.66,273.31 L243.96,275.80 L244.26,278.09 L244.56,280.12 L244.85,281.85 L245.15,283.24 L245.45,284.23 L245.75,284.82 L246.04,284.99 L246.34,284.73 L246.64,284.05 L246.93,282.98 L247.23,281.53 L247.53,279.74 L247.83,277.67 L248.12,275.36 L248.42,272.88 L248.72,270.28 L249.02,267.64 L249.31,265.02 L249.61,262.49 L249.91,260.12 L250.21,257.95 L250.50,256.05 L250.80,254.47 L251.10,253.25 L251.39,252.41 L251.69,251.98 L251.99,251.96 L252.29,252.37 L252.58,253.17 L252.88,254.37 L253.18,255.91 L253.48,257.77 L253.77,259.89 L254.07,262.22 L254.37,264.71 L254.67,267.28 L254.96,269.87 L255.26,272.42 L255.56,274.85 L255.85,277.12 L256.15,279.15 L256.45,280.91 L256.75,282.34 L257.04,283.41 L257.34,284.09 L257.64,284.37 L257.94,284.24 L258.23,283.70 L258.53,282.77 L258.83,281.48 L259.13,279.85 L259.42,277.92 L259.72,275.76 L260.02,273.41 L260.31,270.93 L260.61,268.40 L260.91,265.86 L261.21,263.39 L261.50,261.05 L261.80,258.90 L262.10,256.99 L262.40,255.38 L262.69,254.10 L262.99,253.18 L263.29,252.65 L263.58,252.52 L263.88,252.79 L264.18,253.46 L264.48,254.50 L264.77,255.90 L265.07,257.60 L265.37,259.58 L265.67,261.78 L265.96,264.14 L266.26,266.60 L266.56,269.10 L266.86,271.57 L267.15,273.96 L267.45,276.20 L267.75,278.23 L268.04,280.01 L268.34,281.48 L268.64,282.62 L268.94,283.38 L269.23,283.77 L269.53,283.75 L269.83,283.35 L270.13,282.56 L270.42,281.40 L270.72,279.92 L271.02,278.14 L271.32,276.12 L271.61,273.89 L271.91,271.53 L272.21,269.10 L272.50,266.64 L272.80,264.23 L273.10,261.93 L273.40,259.80 L273.69,257.89 L273.99,256.24 L274.29,254.91 L274.59,253.92 L274.88,253.30 L275.18,253.06 L275.48,253.21 L275.78,253.75 L276.07,254.66 L276.37,255.91 L276.67,257.47 L276.96,259.31 L277.26,261.38 L277.56,263.62 L277.86,265.97 L278.15,268.38 L278.45,270.78 L278.75,273.12 L279.05,275.33 L279.34,277.35 L279.64,279.14 L279.94,280.65 L280.24,281.85 L280.53,282.69 L280.83,283.17 L281.13,283.27 L281.42,282.98 L281.72,282.33 L282.02,281.31 L282.32,279.97 L282.61,278.33 L282.91,276.43 L283.21,274.33 L283.51,272.09 L283.80,269.75 L284.10,267.37 L284.40,265.03 L284.70,262.77 L284.99,260.66 L285.29,258.74 L285.59,257.08 L285.88,255.70 L286.18,254.64 L286.48,253.94 L286.78,253.60 L287.07,253.64 L287.37,254.05 L287.67,254.83 L287.97,255.94 L288.26,257.37 L288.56,259.08 L288.86,261.02 L289.16,263.14 L289.45,265.39 L289.75,267.71 L290.05,270.04 L290.34,272.32 L290.64,274.50 L290.94,276.51 L291.24,278.31 L291.53,279.86 L291.83,281.10 L292.13,282.02 L292.43,282.59 L292.72,282.79 L293.02,282.62 L293.32,282.08 L293.62,281.20 L293.91,279.99 L294.21,278.48 L294.51,276.71 L294.80,274.74 L295.10,272.60 L295.40,270.35 L295.70,268.06 L295.99,265.78 L296.29,263.56 L296.59,261.47 L296.89,259.56 L297.18,257.87 L297.48,256.46 L297.78,255.34 L298.08,254.56 L298.37,254.13 L298.67,254.06 L298.97,254.36 L299.26,255.01 L299.56,256.00 L299.86,257.30 L300.16,258.88 L300.45,260.69 L300.75,262.70 L301.05,264.85 L301.35,267.08 L301.64,269.34 L301.94,271.57 L302.24,273.71 L302.54,275.71 L302.83,277.52 L303.13,279.09 L303.43,280.38 L303.72,281.37 L304.02,282.01 L304.32,282.31 L304.62,282.25 L304.91,281.83 L305.21,281.07 L305.51,279.98 L305.81,278.60 L306.10,276.96 L306.40,275.10 L306.70,273.07 L307.00,270.92 L307.29,268.71 L307.59,266.49 L307.89,264.32 L308.18,262.25 L308.48,260.34 L308.78,258.64 L309.08,257.19 L309.37,256.02 L309.67,255.17 L309.97,254.66 L310.27,254.49 L310.56,254.67 L310.86,255.21 L311.16,256.07 L311.46,257.25 L311.75,258.71 L312.05,260.40 L312.35,262.30 L312.64,264.35 L312.94,266.49 L313.24,268.68 L313.54,270.86 L313.83,272.96 L314.13,274.95 L314.43,276.76 L314.73,278.35 L315.02,279.69 L315.32,280.73 L315.62,281.45 L315.92,281.84 L316.21,281.88 L316.51,281.57 L316.81,280.93 L317.10,279.96 L317.40,278.70 L317.70,277.18 L318.00,275.43 L318.29,273.50 L318.59,271.45 L318.89,269.31 L319.19,267.15 L319.48,265.03 L319.78,262.99 L320.08,261.09 L320.38,259.38 L320.67,257.90 L320.97,256.68 L321.27,255.77 L321.56,255.17 L321.86,254.91 L322.16,254.99 L322.46,255.41 L322.75,256.16 L323.05,257.22 L323.35,258.56 L323.65,260.14 L323.94,261.93 L324.24,263.88 L324.54,265.94 L324.84,268.06 L325.13,270.18 L325.43,272.25 L325.73,274.22 L326.02,276.03 L326.32,277.64 L326.62,279.01 L326.92,280.11 L327.21,280.90 L327.51,281.37 L327.81,281.51 L328.11,281.30 L328.40,280.77 L328.70,279.92 L329.00,278.78 L329.29,277.37 L329.59,275.73 L329.89,273.90 L330.19,271.94 L330.48,269.88 L330.78,267.79 L331.08,265.71 L331.38,263.70 L331.67,261.81 L331.97,260.09 L332.27,258.58 L332.57,257.33 L332.86,256.35 L333.16,255.68 L333.46,255.33 L333.75,255.31 L334.05,255.63 L334.35,256.27 L334.65,257.21 L334.94,258.44 L335.24,259.91 L335.54,261.60 L335.84,263.45 L336.13,265.43 L336.43,267.48 L336.73,269.54 L337.03,271.57 L337.32,273.52 L337.62,275.32 L337.92,276.95 L338.21,278.35 L338.51,279.50 L338.81,280.36 L339.11,280.91 L339.40,281.13 L339.70,281.03 L340.00,280.61 L340.30,279.87 L340.59,278.83 L340.89,277.53 L341.19,276.00 L341.49,274.27 L341.78,272.40 L342.08,270.42 L342.38,268.38 L342.67,266.35 L342.97,264.38 L343.27,262.50 L343.57,260.78 L343.86,259.25 L344.16,257.95 L344.46,256.92 L344.76,256.18 L345.05,255.75 L345.35,255.64 L345.65,255.85 L345.95,256.39 L346.24,257.22 L346.54,258.34 L346.84,259.71 L347.13,261.29 L347.43,263.05 L347.73,264.95 L348.03,266.92 L348.32,268.93 L348.62,270.92 L348.92,272.85 L349.22,274.65 L349.51,276.29 L349.81,277.72 L350.11,278.91 L350.41,279.83 L350.70,280.45 L351.00,280.76 L351.30,280.75 L351.59,280.43 L351.89,279.80 L352.19,278.87 L352.49,277.68 L352.78,276.25 L353.08,274.61 L353.38,272.82 L353.68,270.92 L353.97,268.95 L354.27,266.97 L354.57,265.02 L354.87,263.16 L355.16,261.44 L355.46,259.89 L355.76,258.56 L356.05,257.48 L356.35,256.67 L356.65,256.16 L356.95,255.97 L357.24,256.09 L357.54,256.52 L357.84,257.25 L358.14,258.26 L358.43,259.52 L358.73,261.01 L359.03,262.68 L359.33,264.50 L359.62,266.40 L359.92,268.36 L360.22,270.31 L360.51,272.20 L360.81,274.00 L361.11,275.64 L361.41,277.10 L361.70,278.33 L362.00,279.30 L362.30,279.99 L362.60,280.39 L362.89,280.47 L363.19,280.24 L363.49,279.71 L363.79,278.89 L364.08,277.80 L364.38,276.47 L364.68,274.93 L364.97,273.22 L365.27,271.39 L365.57,269.49 L365.87,267.55 L366.16,265.64 L366.46,263.80 L366.76,262.08 L367.06,260.51 L367.35,259.15 L367.65,258.02 L367.95,257.16 L368.25,256.58 L368.54,256.30 L368.84,256.33 L369.14,256.66 L369.43,257.29 L369.73,258.20 L370.03,259.36 L370.33,260.76 L370.62,262.34 L370.92,264.07 L371.22,265.91 L371.52,267.81 L371.81,269.72 L372.11,271.59 L372.41,273.37 L372.71,275.02 L373.00,276.50 L373.30,277.77 L373.60,278.79 L373.89,279.55 L374.19,280.01 L374.49,280.18 L374.79,280.05 L375.08,279.61 L375.38,278.89 L375.68,277.90 L375.98,276.66 L376.27,275.22 L376.57,273.59 L376.87,271.84 L377.17,270.00 L377.46,268.11 L377.76,266.23 L378.06,264.41 L378.35,262.69 L378.65,261.12 L378.95,259.73 L379.25,258.56 L379.54,257.64 L379.84,256.99 L380.14,256.63 L380.44,256.57 L380.73,256.81 L381.03,257.34 L381.33,258.16 L381.63,259.22 L381.92,260.52 L382.22,262.02 L382.52,263.67 L382.81,265.44 L383.11,267.29 L383.41,269.15 L383.71,270.99 L384.00,272.76 L384.30,274.42 L384.60,275.91 L384.90,277.21 L385.19,278.29 L385.49,279.10 L385.79,279.64 L386.09,279.89 L386.38,279.84 L386.68,279.50 L386.98,278.88 L387.27,277.98 L387.57,276.84 L387.87,275.48 L388.17,273.94 L388.46,272.26 L388.76,270.48 L389.06,268.64 L389.36,266.80 L389.65,265.00 L389.95,263.29 L390.25,261.70 L390.55,260.29 L390.84,259.08 L391.14,258.11 L391.44,257.40 L391.73,256.97 L392.03,256.82 L392.33,256.97 L392.63,257.41 L392.92,258.13 L393.22,259.10 L393.52,260.31 L393.82,261.72 L394.11,263.30 L394.41,265.00 L394.71,266.79 L395.01,268.61 L395.30,270.42 L395.60,272.18 L395.90,273.83 L396.19,275.34 L396.49,276.67 L396.79,277.79 L397.09,278.66 L397.38,279.27 L397.68,279.59 L397.98,279.63 L398.28,279.38 L398.57,278.85 L398.87,278.04 L399.17,276.99 L399.46,275.72 L399.76,274.26 L400.06,272.66 L400.36,270.94 L400.65,269.15 L400.95,267.35 L401.25,265.57 L401.55,263.87 L401.84,262.28 L402.14,260.84 L402.44,259.60 L402.74,258.58 L403.03,257.80 L403.33,257.30 L403.63,257.08 L403.92,257.15 L404.22,257.50 L404.52,258.12 L404.82,259.00 L405.11,260.12 L405.41,261.45 L405.71,262.95 L406.01,264.59 L406.30,266.32 L406.60,268.09 L406.90,269.87 L407.20,271.61 L407.49,273.26 L407.79,274.79 L408.09,276.14 L408.38,277.30 L408.68,278.22 L408.98,278.89 L409.28,279.29 L409.57,279.41 L409.87,279.25 L410.17,278.80 L410.47,278.09 L410.76,277.13 L411.06,275.95 L411.36,274.57 L411.66,273.03 L411.95,271.37 L412.25,269.64 L412.55,267.87 L412.84,266.12 L413.14,264.43 L413.44,262.83 L413.74,261.38 L414.03,260.10 L414.33,259.04 L414.63,258.21 L414.93,257.64 L415.22,257.34 L415.52,257.33 L415.82,257.59 L416.12,258.13 L416.41,258.92 L416.71,259.95 L417.01,261.20 L417.30,262.62 L417.60,264.19 L417.90,265.86 L418.20,267.60 L418.49,269.34 L418.79,271.06 L419.09,272.71 L419.39,274.25 L419.68,275.63 L419.98,276.82 L420.28,277.79 L420.58,278.52 L420.87,278.99 L421.17,279.19 L421.47,279.10 L421.76,278.75 L422.06,278.12 L422.36,277.25 L422.66,276.15 L422.95,274.85 L423.25,273.38 L423.55,271.79 L423.85,270.10 L424.14,268.38 L424.44,266.65 L424.74,264.97 L425.04,263.37 L425.33,261.91 L425.63,260.60 L425.93,259.49 L426.22,258.61 L426.52,257.98 L426.82,257.61 L427.12,257.52 L427.41,257.70 L427.71,258.14 L428.01,258.85 L428.31,259.80 L428.60,260.97 L428.90,262.32 L429.20,263.82 L429.50,265.43 L429.79,267.12 L430.09,268.83 L430.39,270.53 L430.68,272.17 L430.98,273.72 L431.28,275.12 L431.58,276.34 L431.87,277.36 L432.17,278.15 L432.47,278.68 L432.77,278.95 L433.06,278.95 L433.36,278.68 L433.66,278.14 L433.96,277.35 L434.25,276.33 L434.55,275.11 L434.85,273.71 L435.14,272.18 L435.44,270.55 L435.74,268.86 L436.04,267.17 L436.33,265.50 L436.63,263.90 L436.93,262.42 L437.23,261.09 L437.52,259.95 L437.82,259.02 L438.12,258.32 L438.42,257.89 L438.71,257.71 L439.01,257.81 L439.31,258.18 L439.60,258.80 L439.90,259.67 L440.20,260.75 L440.50,262.03 L440.79,263.46 L441.09,265.02 L441.39,266.66 L441.69,268.34 L441.98,270.02 L442.28,271.65 L442.58,273.20 L442.88,274.62 L443.17,275.87 L443.47,276.93 L443.77,277.77 L444.06,278.37 L444.36,278.71 L444.66,278.79 L444.96,278.60 L445.25,278.14 L445.55,277.43 L445.85,276.50 L446.15,275.35 L446.44,274.02 L446.74,272.55 L447.04,270.98 L447.34,269.33 L447.63,267.66 L447.93,266.01 L448.23,264.42 L448.52,262.93 L448.82,261.57 L449.12,260.39 L449.42,259.42 L449.71,258.67 L450.01,258.16 L450.31,257.92 L450.61,257.94 L450.90,258.22 L451.20,258.77 L451.50,259.55 L451.80,260.56 L452.09,261.76 L452.39,263.13 L452.69,264.63 L452.98,266.22 L453.28,267.87 L453.58,269.52 L453.88,271.14 L454.17,272.69 L454.47,274.12 L454.77,275.41 L455.07,276.51 L455.36,277.40 L455.66,278.06 L455.96,278.47 L456.26,278.62 L456.55,278.50 L456.85,278.13 L457.15,277.50 L457.44,276.64 L457.74,275.57 L458.04,274.32 L458.34,272.91 L458.63,271.38 L458.93,269.78 L459.23,268.14 L459.53,266.51 L459.82,264.92 L460.12,263.42 L460.42,262.05 L460.72,260.84 L461.01,259.82 L461.31,259.01 L461.61,258.45 L461.90,258.13 L462.20,258.08 L462.50,258.28 L462.80,258.74 L463.09,259.45 L463.39,260.38 L463.69,261.51 L463.99,262.81 L464.28,264.26 L464.58,265.80 L464.88,267.41 L465.17,269.04 L465.47,270.64 L465.77,272.19 L466.07,273.64 L466.36,274.95 L466.66,276.09 L466.96,277.03 L467.26,277.74 L467.55,278.22 L467.85,278.44 L468.15,278.40 L468.45,278.10 L468.74,277.56 L469.04,276.78 L469.34,275.78 L469.63,274.59 L469.93,273.25 L470.23,271.77 L470.53,270.22 L470.82,268.61 L471.12,267.00 L471.42,265.42 L471.72,263.91 L472.01,262.52 L472.31,261.28 L472.61,260.22 L472.91,259.36 L473.20,258.74 L473.50,258.35 L473.80,258.23 L474.09,258.36 L474.39,258.74 L474.69,259.36 L474.99,260.22 L475.28,261.28 L475.58,262.52 L475.88,263.90 L476.18,265.40 L476.47,266.97 L476.77,268.57 L477.07,270.16 L477.37,271.70 L477.66,273.16 L477.96,274.49 L478.26,275.67 L478.55,276.65 L478.85,277.42 L479.15,277.96 L479.45,278.25 L479.74,278.28 L480.04,278.06 L480.34,277.60 L480.64,276.89 L480.93,275.97 L481.23,274.85 L481.53,273.57 L481.83,272.15 L482.12,270.63 L482.42,269.06 L482.72,267.47 L483.01,265.90 L483.31,264.39 L483.61,262.99 L483.91,261.72 L484.20,260.62 L484.50,259.71 L484.80,259.03 L485.10,258.58 L485.39,258.38 L485.69,258.44 L485.99,258.75 L486.29,259.30 L486.58,260.07 L486.88,261.06 L487.18,262.24 L487.47,263.56 L487.77,265.01 L488.07,266.54 L488.37,268.11 L488.66,269.69 L488.96,271.23 L489.26,272.69 L489.56,274.04 L489.85,275.25 L490.15,276.27 L490.45,277.09 L490.75,277.69 L491.04,278.05 L491.34,278.16 L491.64,278.01 L491.93,277.62 L492.23,276.99 L492.53,276.14 L492.83,275.09 L493.12,273.87 L493.42,272.50 L493.72,271.03 L494.02,269.50 L494.31,267.93 L494.61,266.37 L494.91,264.86 L495.21,263.45 L495.50,262.15 L495.80,261.02" stroke="#e2ab2c" stroke-width="1.4" stroke-dasharray="6 2.2 1.2 2.2"/>
<path d="M228.50,249.75 L228.80,250.04 L229.09,250.68 L229.39,251.66 L229.69,252.96 L229.99,254.54 L230.28,256.37 L230.58,258.42 L230.88,260.64 L231.18,262.99 L231.47,265.42 L231.77,267.88 L232.07,270.33 L232.37,272.72 L232.66,274.99 L232.96,277.12 L233.26,279.05 L233.55,280.76 L233.85,282.20 L234.15,283.36 L234.45,284.21 L234.74,284.74 L235.04,284.94 L235.34,284.81 L235.64,284.35 L235.93,283.59 L236.23,282.53 L236.53,281.20 L236.83,279.63 L237.12,277.85 L237.42,275.90 L237.72,273.82 L238.01,271.65 L238.31,269.43 L238.61,267.22 L238.91,265.05 L239.20,262.96 L239.50,261.01 L239.80,259.21 L240.10,257.62 L240.39,256.25 L240.69,255.14 L240.99,254.29 L241.29,253.73 L241.58,253.47 L241.88,253.50 L242.18,253.82 L242.47,254.43 L242.77,255.30 L243.07,256.41 L243.37,257.75 L243.66,259.28 L243.96,260.97 L244.26,262.78 L244.56,264.68 L244.85,266.63 L245.15,268.59 L245.45,270.52 L245.75,272.39 L246.04,274.15 L246.34,275.77 L246.64,277.23 L246.93,278.50 L247.23,279.55 L247.53,280.37 L247.83,280.94 L248.12,281.26 L248.42,281.32 L248.72,281.13 L249.02,280.68 L249.31,280.00 L249.61,279.09 L249.91,277.99 L250.21,276.70 L250.50,275.27 L250.80,273.71 L251.10,272.06 L251.39,270.36 L251.69,268.63 L251.99,266.91 L252.29,265.23 L252.58,263.63 L252.88,262.14 L253.18,260.77 L253.48,259.57 L253.77,258.54 L254.07,257.72 L254.37,257.10 L254.67,256.71 L254.96,256.55 L255.26,256.62 L255.56,256.91 L255.85,257.43 L256.15,258.15 L256.45,259.08 L256.75,260.17 L257.04,261.42 L257.34,262.80 L257.64,264.29 L257.94,265.84 L258.23,267.44 L258.53,269.06 L258.83,270.65 L259.13,272.20 L259.42,273.66 L259.72,275.03 L260.02,276.25 L260.31,277.32 L260.61,278.22 L260.91,278.92 L261.21,279.41 L261.50,279.69 L261.80,279.74 L262.10,279.56 L262.40,279.17 L262.69,278.56 L262.99,277.75 L263.29,276.75 L263.58,275.58 L263.88,274.27 L264.18,272.83 L264.48,271.31 L264.77,269.71 L265.07,268.09 L265.37,266.46 L265.67,264.87 L265.96,263.33 L266.26,261.89 L266.56,260.57 L266.86,259.40 L267.15,258.40 L267.45,257.59 L267.75,256.99 L268.04,256.61 L268.34,256.46 L268.64,256.54 L268.94,256.86 L269.23,257.40 L269.53,258.16 L269.83,259.13 L270.13,260.28 L270.42,261.60 L270.72,263.05 L271.02,264.61 L271.32,266.25 L271.61,267.94 L271.91,269.64 L272.21,271.32 L272.50,272.94 L272.80,274.48 L273.10,275.90 L273.40,277.17 L273.69,278.26 L273.99,279.16 L274.29,279.85 L274.59,280.31 L274.88,280.53 L275.18,280.51 L275.48,280.25 L275.78,279.75 L276.07,279.02 L276.37,278.08 L276.67,276.94 L276.96,275.63 L277.26,274.18 L277.56,272.61 L277.86,270.95 L278.15,269.25 L278.45,267.53 L278.75,265.82 L279.05,264.17 L279.34,262.60 L279.64,261.15 L279.94,259.84 L280.24,258.71 L280.53,257.76 L280.83,257.03 L281.13,256.53 L281.42,256.26 L281.72,256.23 L282.02,256.44 L282.32,256.88 L282.61,257.55 L282.91,258.43 L283.21,259.50 L283.51,260.74 L283.80,262.12 L284.10,263.61 L284.40,265.19 L284.70,266.83 L284.99,268.48 L285.29,270.12 L285.59,271.71 L285.88,273.23 L286.18,274.63 L286.48,275.91 L286.78,277.02 L287.07,277.95 L287.37,278.69 L287.67,279.22 L287.97,279.52 L288.26,279.61 L288.56,279.47 L288.86,279.11 L289.16,278.54 L289.45,277.77 L289.75,276.82 L290.05,275.71 L290.34,274.47 L290.64,273.11 L290.94,271.67 L291.24,270.17 L291.53,268.65 L291.83,267.14 L292.13,265.66 L292.43,264.24 L292.72,262.91 L293.02,261.70 L293.32,260.63 L293.62,259.72 L293.91,258.98 L294.21,258.43 L294.51,258.08 L294.80,257.93 L295.10,257.99 L295.40,258.25 L295.70,258.70 L295.99,259.34 L296.29,260.15 L296.59,261.11 L296.89,262.21 L297.18,263.43 L297.48,264.73 L297.78,266.09 L298.08,267.49 L298.37,268.90 L298.67,270.29 L298.97,271.64 L299.26,272.91 L299.56,274.09 L299.86,275.15 L300.16,276.07 L300.45,276.84 L300.75,277.43 L301.05,277.85 L301.35,278.08 L301.64,278.11 L301.94,277.96 L302.24,277.61 L302.54,277.08 L302.83,276.38 L303.13,275.53 L303.43,274.53 L303.72,273.41 L304.02,272.19 L304.32,270.89 L304.62,269.55 L304.91,268.18 L305.21,266.81 L305.51,265.47 L305.81,264.19 L306.10,262.98 L306.40,261.88 L306.70,260.90 L307.00,260.07 L307.29,259.39 L307.59,258.90 L307.89,258.58 L308.18,258.46 L308.48,258.53 L308.78,258.79 L309.08,259.24 L309.37,259.87 L309.67,260.67 L309.97,261.62 L310.27,262.71 L310.56,263.91 L310.86,265.20 L311.16,266.55 L311.46,267.95 L311.75,269.35 L312.05,270.74 L312.35,272.08 L312.64,273.36 L312.94,274.54 L313.24,275.60 L313.54,276.51 L313.83,277.27 L314.13,277.85 L314.43,278.25 L314.73,278.45 L315.02,278.44 L315.32,278.24 L315.62,277.84 L315.92,277.25 L316.21,276.48 L316.51,275.55 L316.81,274.47 L317.10,273.27 L317.40,271.96 L317.70,270.58 L318.00,269.16 L318.29,267.71 L318.59,266.27 L318.89,264.87 L319.19,263.54 L319.48,262.30 L319.78,261.18 L320.08,260.20 L320.38,259.37 L320.67,258.73 L320.97,258.27 L321.27,258.02 L321.56,257.97 L321.86,258.12 L322.16,258.47 L322.46,259.02 L322.75,259.75 L323.05,260.65 L323.35,261.71 L323.65,262.89 L323.94,264.17 L324.24,265.54 L324.54,266.96 L324.84,268.40 L325.13,269.83 L325.43,271.24 L325.73,272.58 L326.02,273.83 L326.32,274.97 L326.62,275.97 L326.92,276.82 L327.21,277.49 L327.51,277.99 L327.81,278.28 L328.11,278.38 L328.40,278.28 L328.70,277.99 L329.00,277.50 L329.29,276.83 L329.59,276.00 L329.89,275.02 L330.19,273.91 L330.48,272.70 L330.78,271.40 L331.08,270.05 L331.38,268.68 L331.67,267.30 L331.97,265.95 L332.27,264.66 L332.57,263.44 L332.86,262.33 L333.16,261.34 L333.46,260.49 L333.75,259.81 L334.05,259.29 L334.35,258.95 L334.65,258.81 L334.94,258.84 L335.24,259.07 L335.54,259.48 L335.84,260.05 L336.13,260.79 L336.43,261.67 L336.73,262.67 L337.03,263.78 L337.32,264.97 L337.62,266.22 L337.92,267.51 L338.21,268.80 L338.51,270.08 L338.81,271.31 L339.11,272.48 L339.40,273.56 L339.70,274.53 L340.00,275.38 L340.30,276.08 L340.59,276.62 L340.89,277.00 L341.19,277.21 L341.49,277.24 L341.78,277.10 L342.08,276.78 L342.38,276.30 L342.67,275.66 L342.97,274.88 L343.27,273.98 L343.57,272.96 L343.86,271.86 L344.16,270.69 L344.46,269.48 L344.76,268.24 L345.05,267.01 L345.35,265.81 L345.65,264.66 L345.95,263.58 L346.24,262.60 L346.54,261.73 L346.84,260.99 L347.13,260.39 L347.43,259.95 L347.73,259.68 L348.03,259.57 L348.32,259.64 L348.62,259.87 L348.92,260.27 L349.22,260.83 L349.51,261.54 L349.81,262.38 L350.11,263.34 L350.41,264.39 L350.70,265.53 L351.00,266.72 L351.30,267.94 L351.59,269.17 L351.89,270.39 L352.19,271.56 L352.49,272.68 L352.78,273.71 L353.08,274.63 L353.38,275.44 L353.68,276.10 L353.97,276.61 L354.27,276.96 L354.57,277.14 L354.87,277.14 L355.16,276.97 L355.46,276.63 L355.76,276.12 L356.05,275.46 L356.35,274.65 L356.65,273.72 L356.95,272.67 L357.24,271.54 L357.54,270.34 L357.84,269.10 L358.14,267.84 L358.43,266.58 L358.73,265.36 L359.03,264.19 L359.33,263.10 L359.62,262.11 L359.92,261.24 L360.22,260.51 L360.51,259.93 L360.81,259.52 L361.11,259.28 L361.41,259.21 L361.70,259.33 L362.00,259.63 L362.30,260.10 L362.60,260.73 L362.89,261.51 L363.19,262.43 L363.49,263.46 L363.79,264.59 L364.08,265.80 L364.38,267.05 L364.68,268.33 L364.97,269.62 L365.27,270.87 L365.57,272.08 L365.87,273.21 L366.16,274.24 L366.46,275.15 L366.76,275.93 L367.06,276.56 L367.35,277.02 L367.65,277.31 L367.95,277.42 L368.25,277.35 L368.54,277.10 L368.84,276.68 L369.14,276.09 L369.43,275.35 L369.73,274.47 L370.03,273.47 L370.33,272.37 L370.62,271.19 L370.92,269.96 L371.22,268.70 L371.52,267.43 L371.81,266.19 L372.11,264.99 L372.41,263.85 L372.71,262.81 L373.00,261.89 L373.30,261.09 L373.60,260.44 L373.89,259.94 L374.19,259.61 L374.49,259.46 L374.79,259.48 L375.08,259.67 L375.38,260.03 L375.68,260.56 L375.98,261.24 L376.27,262.05 L376.57,262.98 L376.87,264.01 L377.17,265.13 L377.46,266.30 L377.76,267.51 L378.06,268.72 L378.35,269.92 L378.65,271.09 L378.95,272.19 L379.25,273.22 L379.54,274.14 L379.84,274.94 L380.14,275.61 L380.44,276.13 L380.73,276.50 L381.03,276.70 L381.33,276.74 L381.63,276.61 L381.92,276.31 L382.22,275.86 L382.52,275.27 L382.81,274.54 L383.11,273.69 L383.41,272.73 L383.71,271.69 L384.00,270.59 L384.30,269.45 L384.60,268.29 L384.90,267.14 L385.19,266.01 L385.49,264.93 L385.79,263.91 L386.09,262.99 L386.38,262.18 L386.68,261.48 L386.98,260.93 L387.27,260.52 L387.57,260.26 L387.87,260.16 L388.17,260.22 L388.46,260.44 L388.76,260.82 L389.06,261.34 L389.36,262.00 L389.65,262.78 L389.95,263.67 L390.25,264.64 L390.55,265.69 L390.84,266.79 L391.14,267.92 L391.44,269.06 L391.73,270.18 L392.03,271.26 L392.33,272.28 L392.63,273.23 L392.92,274.08 L393.22,274.82 L393.52,275.42 L393.82,275.89 L394.11,276.21 L394.41,276.37 L394.71,276.38 L395.01,276.22 L395.30,275.91 L395.60,275.45 L395.90,274.85 L396.19,274.11 L396.49,273.26 L396.79,272.32 L397.09,271.29 L397.38,270.20 L397.68,269.07 L397.98,267.93 L398.28,266.79 L398.57,265.67 L398.87,264.61 L399.17,263.62 L399.46,262.72 L399.76,261.93 L400.06,261.26 L400.36,260.73 L400.65,260.34 L400.95,260.12 L401.25,260.06 L401.55,260.15 L401.84,260.41 L402.14,260.83 L402.44,261.40 L402.74,262.10 L403.03,262.92 L403.33,263.86 L403.63,264.88 L403.92,265.98 L404.22,267.12 L404.52,268.28 L404.82,269.45 L405.11,270.60 L405.41,271.70 L405.71,272.74 L406.01,273.69 L406.30,274.54 L406.60,275.26 L406.90,275.85 L407.20,276.29 L407.49,276.57 L407.79,276.68 L408.09,276.63 L408.38,276.42 L408.68,276.04 L408.98,275.51 L409.28,274.84 L409.57,274.04 L409.87,273.13 L410.17,272.11 L410.47,271.03 L410.76,269.89 L411.06,268.72 L411.36,267.54 L411.66,266.38 L411.95,265.25 L412.25,264.19 L412.55,263.21 L412.84,262.33 L413.14,261.57 L413.44,260.94 L413.74,260.46 L414.03,260.14 L414.33,259.98 L414.63,259.98 L414.93,260.15 L415.22,260.48 L415.52,260.96 L415.82,261.59 L416.12,262.34 L416.41,263.22 L416.71,264.19 L417.01,265.24 L417.30,266.35 L417.60,267.50 L417.90,268.65 L418.20,269.80 L418.49,270.92 L418.79,271.98 L419.09,272.96 L419.39,273.85 L419.68,274.63 L419.98,275.28 L420.28,275.79 L420.58,276.15 L420.87,276.36 L421.17,276.40 L421.47,276.29 L421.76,276.02 L422.06,275.59 L422.36,275.03 L422.66,274.33 L422.95,273.52 L423.25,272.61 L423.55,271.61 L423.85,270.55 L424.14,269.46 L424.44,268.34 L424.74,267.22 L425.04,266.13 L425.33,265.09 L425.63,264.11 L425.93,263.22 L426.22,262.43 L426.52,261.76 L426.82,261.22 L427.12,260.82 L427.41,260.57 L427.71,260.47 L428.01,260.53 L428.31,260.74 L428.60,261.09 L428.90,261.59 L429.20,262.22 L429.50,262.97 L429.79,263.82 L430.09,264.75 L430.39,265.76 L430.68,266.81 L430.98,267.89 L431.28,268.98 L431.58,270.05 L431.87,271.09 L432.17,272.06 L432.47,272.97 L432.77,273.78 L433.06,274.48 L433.36,275.06 L433.66,275.50 L433.96,275.81 L434.25,275.96 L434.55,275.97 L434.85,275.82 L435.14,275.53 L435.44,275.09 L435.74,274.52 L436.04,273.83 L436.33,273.03 L436.63,272.13 L436.93,271.16 L437.23,270.13 L437.52,269.07 L437.82,267.99 L438.12,266.92 L438.42,265.87 L438.71,264.87 L439.01,263.94 L439.31,263.09 L439.60,262.35 L439.90,261.72 L440.20,261.22 L440.50,260.86 L440.79,260.64 L441.09,260.58 L441.39,260.67 L441.69,260.91 L441.98,261.29 L442.28,261.82 L442.58,262.47 L442.88,263.24 L443.17,264.11 L443.47,265.06 L443.77,266.08 L444.06,267.15 L444.36,268.24 L444.66,269.33 L444.96,270.41 L445.25,271.44 L445.55,272.41 L445.85,273.31 L446.15,274.11 L446.44,274.79 L446.74,275.34 L447.04,275.76 L447.34,276.03 L447.63,276.15 L447.93,276.11 L448.23,275.92 L448.52,275.58 L448.82,275.09 L449.12,274.47 L449.42,273.72 L449.71,272.87 L450.01,271.93 L450.31,270.91 L450.61,269.84 L450.90,268.74 L451.20,267.63 L451.50,266.53 L451.80,265.47 L452.09,264.46 L452.39,263.52 L452.69,262.68 L452.98,261.96 L453.28,261.35 L453.58,260.89 L453.88,260.57 L454.17,260.40 L454.47,260.39 L454.77,260.54 L455.07,260.84 L455.36,261.28 L455.66,261.87 L455.96,262.58 L456.26,263.41 L456.55,264.33 L456.85,265.33 L457.15,266.39 L457.44,267.48 L457.74,268.59 L458.04,269.70 L458.34,270.77 L458.63,271.80 L458.93,272.75 L459.23,273.62 L459.53,274.37 L459.82,275.01 L460.12,275.52 L460.42,275.88 L460.72,276.09 L461.01,276.14 L461.31,276.04 L461.61,275.79 L461.90,275.39 L462.20,274.86 L462.50,274.19 L462.80,273.41 L463.09,272.52 L463.39,271.56 L463.69,270.54 L463.99,269.47 L464.28,268.38 L464.58,267.30 L464.88,266.23 L465.17,265.21 L465.47,264.25 L465.77,263.38 L466.07,262.60 L466.36,261.94 L466.66,261.40 L466.96,261.00 L467.26,260.75 L467.55,260.65 L467.85,260.69 L468.15,260.89 L468.45,261.23 L468.74,261.72 L469.04,262.33 L469.34,263.05 L469.63,263.88 L469.93,264.79 L470.23,265.77 L470.53,266.80 L470.82,267.86 L471.12,268.92 L471.42,269.97 L471.72,270.98 L472.01,271.94 L472.31,272.82 L472.61,273.62 L472.91,274.30 L473.20,274.87 L473.50,275.31 L473.80,275.61 L474.09,275.76 L474.39,275.77 L474.69,275.63 L474.99,275.34 L475.28,274.92 L475.58,274.37 L475.88,273.70 L476.18,272.92 L476.47,272.05 L476.77,271.11 L477.07,270.12 L477.37,269.09 L477.66,268.04 L477.96,267.01 L478.26,265.99 L478.55,265.02 L478.85,264.12 L479.15,263.30 L479.45,262.58 L479.74,261.97 L480.04,261.49 L480.34,261.14 L480.64,260.93 L480.93,260.87 L481.23,260.95 L481.53,261.18 L481.83,261.55 L482.12,262.05 L482.42,262.68 L482.72,263.41 L483.01,264.25 L483.31,265.16 L483.61,266.14 L483.91,267.16 L484.20,268.20 L484.50,269.25 L484.80,270.27 L485.10,271.27 L485.39,272.20 L485.69,273.06 L485.99,273.82 L486.29,274.48 L486.58,275.01 L486.88,275.42 L487.18,275.68 L487.47,275.80 L487.77,275.77 L488.07,275.59 L488.37,275.27 L488.66,274.81 L488.96,274.22 L489.26,273.51 L489.56,272.70 L489.85,271.80 L490.15,270.83 L490.45,269.81 L490.75,268.76 L491.04,267.70 L491.34,266.65 L491.64,265.63 L491.93,264.66 L492.23,263.76 L492.53,262.96 L492.83,262.25 L493.12,261.67 L493.42,261.21 L493.72,260.90 L494.02,260.73 L494.31,260.71 L494.61,260.84 L494.91,261.12 L495.21,261.54 L495.50,262.09 L495.80,262.77" stroke="#3378c6" stroke-width="1.4"/>
</g>
<text x="223.4" y="254.40" text-anchor="end" font-family="'Liberation Sans', sans-serif" font-size="10" font-weight="bold" fill="#1a1a1a">1</text>
<text x="223.4" y="272.00" text-anchor="end" font-family="'Liberation Sans', sans-serif" font-size="10" font-weight="bold" fill="#1a1a1a">0</text>
<text x="223.4" y="290.80" text-anchor="end" font-family="'Liberation Sans', sans-serif" font-size="10" font-weight="bold" fill="#1a1a1a">-1</text>
<text x="228.5" y="300.1" text-anchor="middle" font-family="'Liberation Sans', sans-serif" font-size="10" font-weight="bold" fill="#1a1a1a">0</text>
<text x="295.3" y="300.1" text-anchor="middle" font-family="'Liberation Sans', sans-serif" font-size="10" font-weight="bold" fill="#1a1a1a">5</text>
<text x="362.2" y="300.1" text-anchor="middle" font-family="'Liberation Sans', sans-serif" font-size="10" font-weight="bold" fill="#1a1a1a">10</text>
<text x="429" y="300.1" text-anchor="middle" font-family="'Liberation Sans', sans-serif" font-size="10" font-weight="bold" fill="#1a1a1a">15</text>
<text x="494.2" y="300.1" text-anchor="middle" font-family="'Liberation Sans', sans-serif" font-size="10" font-weight="bold" fill="#1a1a1a">20</text>
<text x="347.7" y="313.9" font-family="'Liberation Sans', sans-serif" font-size="10.6" font-weight="bold" fill="#1a1a1a"><tspan font-family="'Liberation Serif', serif" font-weight="normal" font-style="italic" font-size="13.5">ρ</tspan><tspan dx="0.6"> / </tspan><tspan font-weight="normal" font-size="11.2" dx="1.2">λ</tspan><tspan font-size="9.4" dy="6" dx="0.6">0</tspan></text>
<text transform="translate(208.2,279.2) rotate(-90)" font-family="'Liberation Sans', sans-serif" font-size="11.2" font-weight="bold" fill="#000"><tspan font-style="italic">W</tspan><tspan font-style="italic" font-size="8.5" dy="3">zz</tspan><tspan dy="-3" font-weight="normal"> (</tspan><tspan font-family="'Liberation Serif', serif" font-weight="normal" font-style="italic">ρ</tspan><tspan font-weight="normal">)</tspan></text>
<path d="M326.6,249.7H344" stroke="#d9532b" stroke-width="1.4" stroke-dasharray="1.3 1.5" fill="none"/>
<path d="M384,249.7H397" stroke="#e2ab2c" stroke-width="1.4" stroke-dasharray="6 5.6 1.2 6" fill="none"/>
<path d="M437.6,249.7H455.1" stroke="#3378c6" stroke-width="1.4" fill="none"/>
<g font-family="'Liberation Sans', sans-serif" font-size="10.5" font-weight="bold"><text x="347.7" y="253" fill="#d9532b">BM</text><text x="401.3" y="253" fill="#e2ab2c">W-RM</text><text x="458.1" y="253" fill="#3378c6">S-RM</text></g>
<text x="511.8" y="189.4" font-family="'Liberation Sans', sans-serif" font-size="14" font-weight="bold" fill="#000">g</text>
<rect x="549.5" y="181.9" width="105.89999999999998" height="104.4" fill="#fff"/>
<path d="M551.22,181.9V286.3 M554.02,181.9V286.3 M556.49,181.9V286.3 M558.70,181.9V286.3 M573.24,181.9V286.3 M581.74,181.9V286.3 M587.78,181.9V286.3 M592.46,181.9V286.3 M596.28,181.9V286.3 M599.52,181.9V286.3 M602.32,181.9V286.3 M604.79,181.9V286.3 M607.00,181.9V286.3 M621.54,181.9V286.3 M630.04,181.9V286.3 M636.08,181.9V286.3 M640.76,181.9V286.3 M644.58,181.9V286.3 M647.82,181.9V286.3 M650.62,181.9V286.3 M653.09,181.9V286.3 M549.5,279.78H655.4 M549.5,273.25H655.4 M549.5,266.73H655.4 M549.5,260.20H655.4 M549.5,253.68H655.4 M549.5,247.15H655.4 M549.5,240.62H655.4 M549.5,234.10H655.4 M549.5,227.58H655.4 M549.5,221.05H655.4 M549.5,214.53H655.4 M549.5,208.00H655.4 M549.5,201.48H655.4 M549.5,194.95H655.4 M549.5,188.43H655.4" stroke="#ececec" stroke-width="0.65" fill="none"/>
<rect x="549.5" y="181.9" width="105.89999999999998" height="104.4" fill="none" stroke="#b4b4b4" stroke-width="1"/>
<path d="M549.50,274.90 L550.03,274.52 L550.56,274.12 L551.10,273.69 L551.63,273.24 L552.16,272.76 L552.69,272.26 L553.23,271.74 L553.76,271.20 L554.29,270.64 L554.82,270.06 L555.35,269.46 L555.89,268.85 L556.42,268.22 L556.95,267.58 L557.48,266.92 L558.01,266.22 L558.55,265.47 L559.08,264.69 L559.61,263.88 L560.14,263.04 L560.68,262.18 L561.21,261.29 L561.74,260.38 L562.27,259.46 L562.80,258.53 L563.34,257.59 L563.87,256.65 L564.40,255.71 L564.93,254.77 L565.46,253.83 L566.00,252.85 L566.53,251.84 L567.06,250.81 L567.59,249.78 L568.13,248.75 L568.66,247.75 L569.19,246.79 L569.72,245.87 L570.25,244.95 L570.79,244.05 L571.32,243.17 L571.85,242.31 L572.38,241.47 L572.92,240.66 L573.45,239.89 L573.98,239.13 L574.51,238.38 L575.04,237.65 L575.58,236.94 L576.11,236.27 L576.64,235.63 L577.17,235.04 L577.70,234.49 L578.24,233.97 L578.77,233.48 L579.30,233.01 L579.83,232.56 L580.37,232.14 L580.90,231.75 L581.43,231.38 L581.96,231.02 L582.49,230.67 L583.03,230.34 L583.56,230.03 L584.09,229.75 L584.62,229.53 L585.15,229.35 L585.69,229.20 L586.22,229.05 L586.75,228.92 L587.28,228.81 L587.82,228.74 L588.35,228.70 L588.88,228.71 L589.41,228.76 L589.94,228.84 L590.48,228.94 L591.01,229.06 L591.54,229.19 L592.07,229.32 L592.61,229.48 L593.14,229.68 L593.67,229.92 L594.20,230.17 L594.73,230.45 L595.27,230.73 L595.80,231.00 L596.33,231.29 L596.86,231.60 L597.39,231.92 L597.93,232.26 L598.46,232.61 L598.99,232.97 L599.52,233.35 L600.06,233.73 L600.59,234.15 L601.12,234.58 L601.65,235.02 L602.18,235.48 L602.72,235.94 L603.25,236.41 L603.78,236.87 L604.31,237.33 L604.84,237.81 L605.38,238.28 L605.91,238.76 L606.44,239.25 L606.97,239.74 L607.51,240.22 L608.04,240.71 L608.57,241.19 L609.10,241.68 L609.63,242.16 L610.17,242.65 L610.70,243.15 L611.23,243.65 L611.76,244.16 L612.29,244.68 L612.83,245.21 L613.36,245.75 L613.89,246.29 L614.42,246.84 L614.96,247.40 L615.49,247.96 L616.02,248.53 L616.55,249.11 L617.08,249.70 L617.62,250.31 L618.15,250.92 L618.68,251.54 L619.21,252.16 L619.75,252.77 L620.28,253.38 L620.81,253.99 L621.34,254.58 L621.87,255.16 L622.41,255.74 L622.94,256.32 L623.47,256.89 L624.00,257.46 L624.53,258.02 L625.07,258.55 L625.60,259.05 L626.13,259.51 L626.66,259.95 L627.20,260.38 L627.73,260.80 L628.26,261.21 L628.79,261.61 L629.32,261.99 L629.86,262.37 L630.39,262.74 L630.92,263.10 L631.45,263.46 L631.98,263.81 L632.52,264.15 L633.05,264.49 L633.58,264.83 L634.11,265.16 L634.65,265.50 L635.18,265.83 L635.71,266.16 L636.24,266.49 L636.77,266.82 L637.31,267.14 L637.84,267.46 L638.37,267.78 L638.90,268.09 L639.44,268.40 L639.97,268.70 L640.50,269.01 L641.03,269.31 L641.56,269.61 L642.10,269.90 L642.63,270.19 L643.16,270.48 L643.69,270.77 L644.22,271.06 L644.76,271.34 L645.29,271.62 L645.82,271.90 L646.35,272.18 L646.89,272.46 L647.42,272.73 L647.95,273.00 L648.48,273.28 L649.01,273.54 L649.55,273.81 L650.08,274.08 L650.61,274.34 L651.14,274.60 L651.67,274.86 L652.21,275.11 L652.74,275.37 L653.27,275.62 L653.80,275.87 L654.34,276.11 L654.87,276.36 L655.40,276.60" stroke="#3378c6" stroke-width="1.4" fill="none"/>
<path d="M549.50,278.60 L549.94,278.20 L550.39,277.78 L550.83,277.34 L551.27,276.88 L551.72,276.41 L552.16,275.92 L552.60,275.41 L553.04,274.89 L553.49,274.35 L553.93,273.80 L554.37,273.24 L554.82,272.66 L555.26,272.07 L555.70,271.47 L556.15,270.86 L556.59,270.23 L557.03,269.60 L557.48,268.95 L557.92,268.27 L558.36,267.58 L558.81,266.86 L559.25,266.12 L559.69,265.36 L560.13,264.58 L560.58,263.78 L561.02,262.96 L561.46,262.13 L561.91,261.28 L562.35,260.42 L562.79,259.55 L563.24,258.66 L563.68,257.76 L564.12,256.85 L564.57,255.93 L565.01,255.00 L565.45,254.07 L565.89,253.14 L566.34,252.19 L566.78,251.22 L567.22,250.22 L567.67,249.18 L568.11,248.08 L568.55,246.93 L569.00,245.69 L569.44,244.37 L569.88,242.87 L570.33,241.20 L570.77,239.40 L571.21,237.51 L571.65,235.58 L572.10,233.63 L572.54,231.71 L572.98,229.86 L573.43,228.11 L573.87,226.40 L574.31,224.71 L574.76,223.03 L575.20,221.37 L575.64,219.72 L576.09,218.09 L576.53,216.49 L576.97,214.91 L577.42,213.35 L577.86,211.79 L578.30,210.22 L578.74,208.66 L579.19,207.11 L579.63,205.60 L580.07,204.14 L580.52,202.74 L580.96,201.42 L581.40,200.19 L581.85,199.01 L582.29,197.84 L582.73,196.69 L583.18,195.58 L583.62,194.53 L584.06,193.55 L584.50,192.66 L584.95,191.89 L585.39,191.24 L585.83,190.69 L586.28,190.15 L586.72,189.62 L587.16,189.13 L587.61,188.69 L588.05,188.31 L588.49,188.01 L588.94,187.80 L589.38,187.70 L589.82,187.74 L590.26,187.93 L590.71,188.24 L591.15,188.66 L591.59,189.18 L592.04,189.76 L592.48,190.40 L592.92,191.07 L593.37,191.74 L593.81,192.44 L594.25,193.28 L594.70,194.28 L595.14,195.39 L595.58,196.59 L596.03,197.85 L596.47,199.13 L596.91,200.41 L597.35,201.64 L597.80,202.82 L598.24,204.01 L598.68,205.21 L599.13,206.42 L599.57,207.64 L600.01,208.85 L600.46,210.07 L600.90,211.27 L601.34,212.46 L601.79,213.62 L602.23,214.77 L602.67,215.91 L603.11,217.03 L603.56,218.15 L604.00,219.26 L604.44,220.37 L604.89,221.47 L605.33,222.58 L605.77,223.68 L606.22,224.79 L606.66,225.90 L607.10,227.01 L607.55,228.12 L607.99,229.22 L608.43,230.31 L608.87,231.39 L609.32,232.46 L609.76,233.51 L610.20,234.56 L610.65,235.61 L611.09,236.67 L611.53,237.73 L611.98,238.78 L612.42,239.81 L612.86,240.82 L613.31,241.80 L613.75,242.74 L614.19,243.64 L614.64,244.50 L615.08,245.30 L615.52,246.06 L615.96,246.79 L616.41,247.49 L616.85,248.17 L617.29,248.83 L617.74,249.48 L618.18,250.11 L618.62,250.75 L619.07,251.38 L619.51,252.02 L619.95,252.68 L620.40,253.35 L620.84,254.03 L621.28,254.72 L621.72,255.42 L622.17,256.12 L622.61,256.81 L623.05,257.49 L623.50,258.15 L623.94,258.80 L624.38,259.42 L624.83,260.01 L625.27,260.57 L625.71,261.09 L626.16,261.56 L626.60,262.02 L627.04,262.46 L627.48,262.89 L627.93,263.31 L628.37,263.72 L628.81,264.12 L629.26,264.51 L629.70,264.88 L630.14,265.25 L630.59,265.61 L631.03,265.96 L631.47,266.30 L631.92,266.63 L632.36,266.96 L632.80,267.28 L633.25,267.59 L633.69,267.90 L634.13,268.20 L634.57,268.50 L635.02,268.80 L635.46,269.09 L635.90,269.37 L636.35,269.66 L636.79,269.94 L637.23,270.21 L637.68,270.47 L638.12,270.73 L638.56,270.99 L639.01,271.24 L639.45,271.49 L639.89,271.73 L640.33,271.97 L640.78,272.20 L641.22,272.43 L641.66,272.66 L642.11,272.89 L642.55,273.11 L642.99,273.33 L643.44,273.55 L643.88,273.77 L644.32,273.99 L644.77,274.20 L645.21,274.42 L645.65,274.63 L646.09,274.85 L646.54,275.06 L646.98,275.28 L647.42,275.49 L647.87,275.70 L648.31,275.91 L648.75,276.11 L649.20,276.32 L649.64,276.52 L650.08,276.72 L650.53,276.92 L650.97,277.12 L651.41,277.32 L651.86,277.51 L652.30,277.70 L652.74,277.89 L653.18,278.08 L653.63,278.27 L654.07,278.46 L654.51,278.64 L654.96,278.82 L655.40,279.00" stroke="#d9532b" stroke-width="1.5" stroke-dasharray="4.4 2.8" fill="none"/>
<path d="M549.50,278.20 L549.94,277.81 L550.39,277.41 L550.83,276.98 L551.27,276.53 L551.72,276.07 L552.16,275.59 L552.60,275.09 L553.04,274.57 L553.49,274.04 L553.93,273.50 L554.37,272.93 L554.82,272.36 L555.26,271.77 L555.70,271.17 L556.15,270.56 L556.59,269.93 L557.03,269.30 L557.48,268.65 L557.92,267.97 L558.36,267.27 L558.81,266.54 L559.25,265.79 L559.69,265.02 L560.13,264.22 L560.58,263.41 L561.02,262.58 L561.46,261.73 L561.91,260.86 L562.35,259.98 L562.79,259.08 L563.24,258.17 L563.68,257.25 L564.12,256.32 L564.57,255.37 L565.01,254.42 L565.45,253.45 L565.89,252.48 L566.34,251.48 L566.78,250.46 L567.22,249.40 L567.67,248.30 L568.11,247.16 L568.55,245.96 L569.00,244.70 L569.44,243.37 L569.88,241.89 L570.33,240.28 L570.77,238.56 L571.21,236.77 L571.65,234.95 L572.10,233.12 L572.54,231.32 L572.98,229.58 L573.43,227.94 L573.87,226.33 L574.31,224.73 L574.76,223.15 L575.20,221.59 L575.64,220.05 L576.09,218.53 L576.53,217.04 L576.97,215.58 L577.42,214.15 L577.86,212.74 L578.30,211.33 L578.74,209.93 L579.19,208.56 L579.63,207.22 L580.07,205.93 L580.52,204.68 L580.96,203.50 L581.40,202.39 L581.85,201.31 L582.29,200.23 L582.73,199.17 L583.18,198.16 L583.62,197.22 L584.06,196.37 L584.50,195.64 L584.95,195.06 L585.39,194.57 L585.83,194.10 L586.28,193.66 L586.72,193.26 L587.16,192.95 L587.61,192.72 L588.05,192.61 L588.49,192.62 L588.94,192.75 L589.38,192.96 L589.82,193.24 L590.26,193.58 L590.71,193.96 L591.15,194.37 L591.59,194.79 L592.04,195.29 L592.48,195.93 L592.92,196.68 L593.37,197.52 L593.81,198.44 L594.25,199.40 L594.70,200.39 L595.14,201.39 L595.58,202.36 L596.03,203.35 L596.47,204.39 L596.91,205.48 L597.35,206.60 L597.80,207.74 L598.24,208.90 L598.68,210.06 L599.13,211.20 L599.57,212.32 L600.01,213.43 L600.46,214.54 L600.90,215.64 L601.34,216.75 L601.79,217.85 L602.23,218.95 L602.67,220.05 L603.11,221.15 L603.56,222.25 L604.00,223.35 L604.44,224.45 L604.89,225.57 L605.33,226.68 L605.77,227.79 L606.22,228.88 L606.66,229.96 L607.10,231.02 L607.55,232.05 L607.99,233.05 L608.43,234.05 L608.87,235.04 L609.32,236.02 L609.76,236.98 L610.20,237.92 L610.65,238.83 L611.09,239.70 L611.53,240.52 L611.98,241.31 L612.42,242.05 L612.86,242.77 L613.31,243.45 L613.75,244.12 L614.19,244.77 L614.64,245.40 L615.08,246.03 L615.52,246.65 L615.96,247.27 L616.41,247.89 L616.85,248.53 L617.29,249.17 L617.74,249.81 L618.18,250.45 L618.62,251.08 L619.07,251.71 L619.51,252.33 L619.95,252.95 L620.40,253.57 L620.84,254.18 L621.28,254.79 L621.72,255.41 L622.17,256.03 L622.61,256.66 L623.05,257.28 L623.50,257.90 L623.94,258.50 L624.38,259.09 L624.83,259.65 L625.27,260.19 L625.71,260.69 L626.16,261.16 L626.60,261.61 L627.04,262.06 L627.48,262.49 L627.93,262.91 L628.37,263.33 L628.81,263.73 L629.26,264.13 L629.70,264.51 L630.14,264.89 L630.59,265.27 L631.03,265.63 L631.47,265.98 L631.92,266.33 L632.36,266.67 L632.80,267.01 L633.25,267.34 L633.69,267.66 L634.13,267.97 L634.57,268.28 L635.02,268.58 L635.46,268.88 L635.90,269.17 L636.35,269.46 L636.79,269.74 L637.23,270.01 L637.68,270.28 L638.12,270.54 L638.56,270.80 L639.01,271.05 L639.45,271.30 L639.89,271.54 L640.33,271.78 L640.78,272.01 L641.22,272.24 L641.66,272.47 L642.11,272.69 L642.55,272.92 L642.99,273.14 L643.44,273.36 L643.88,273.57 L644.32,273.79 L644.77,274.00 L645.21,274.22 L645.65,274.43 L646.09,274.65 L646.54,274.86 L646.98,275.08 L647.42,275.29 L647.87,275.50 L648.31,275.71 L648.75,275.91 L649.20,276.12 L649.64,276.32 L650.08,276.52 L650.53,276.72 L650.97,276.92 L651.41,277.12 L651.86,277.31 L652.30,277.50 L652.74,277.69 L653.18,277.88 L653.63,278.07 L654.07,278.26 L654.51,278.44 L654.96,278.62 L655.40,278.80" stroke="#e2ab2c" stroke-width="1.4" stroke-dasharray="4.4 1.5 1.2 1.5" fill="none"/>
<text x="546.6" y="191.90" text-anchor="end" font-family="'Liberation Sans', sans-serif" font-size="9.4" font-weight="bold" fill="#262626">15</text>
<text x="546.6" y="224.60" text-anchor="end" font-family="'Liberation Sans', sans-serif" font-size="9.4" font-weight="bold" fill="#262626">10</text>
<text x="546.6" y="257.20" text-anchor="end" font-family="'Liberation Sans', sans-serif" font-size="9.4" font-weight="bold" fill="#262626">5</text>
<text x="546.6" y="289.80" text-anchor="end" font-family="'Liberation Sans', sans-serif" font-size="9.4" font-weight="bold" fill="#262626">0</text>
<text x="558.8" y="300.1" text-anchor="middle" font-family="'Liberation Sans', sans-serif" font-size="9.6" font-weight="bold" fill="#262626">10<tspan font-size="6.8" dy="-4.2">-3</tspan></text>
<text x="607.4" y="300.1" text-anchor="middle" font-family="'Liberation Sans', sans-serif" font-size="9.6" font-weight="bold" fill="#262626">10<tspan font-size="6.8" dy="-4.2">-2</tspan></text>
<text x="656.2" y="300.1" text-anchor="middle" font-family="'Liberation Sans', sans-serif" font-size="9.6" font-weight="bold" fill="#262626">10<tspan font-size="6.8" dy="-4.2">-1</tspan></text>
<text x="586.7" y="312" font-family="'Liberation Sans', sans-serif" font-size="10.2" font-weight="bold" fill="#262626"><tspan font-style="italic">w</tspan><tspan font-size="8.3" dy="5.3" dx="0.3">1</tspan><tspan dy="-5.3" dx="0.3"> / </tspan><tspan font-weight="normal" font-size="10.8" dx="0.3">λ</tspan><tspan font-size="8.3" dy="5.3" dx="0.3">0</tspan></text>
<text transform="translate(528,282.4) rotate(-90)" font-family="'Liberation Sans', sans-serif" font-size="8.7" font-weight="bold" fill="#262626">Spatial coherence<tspan dx="1"> (</tspan><tspan font-weight="normal" font-size="9.6" dx="0.8">λ</tspan><tspan font-size="7.4" dy="3.2" dx="0.4">0</tspan><tspan dy="-3.2" dx="0.4">)</tspan></text>
<path d="M606.7,191.8H628.7" stroke="#d9532b" stroke-width="1.5" stroke-dasharray="4.4 2.8" fill="none"/><path d="M606.7,200.9H628.7" stroke="#e2ab2c" stroke-width="1.25" stroke-dasharray="4.4 1.5 1.2 1.5" fill="none"/><path d="M606.7,210.5H628.7" stroke="#3378c6" stroke-width="1.25" fill="none"/>
<g font-family="'Liberation Sans', sans-serif" font-size="8.8" font-weight="bold"><text x="630.8" y="195.2" fill="#d9532b">BM</text><text x="629.4" y="204.3" fill="#e2ab2c" font-size="9.1">W-RM</text><text x="630.8" y="214.3" fill="#3378c6" font-size="9.1">S-RM</text></g>
</svg>
</body></html>
